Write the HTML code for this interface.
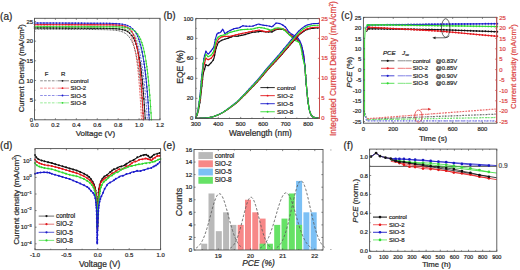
<!DOCTYPE html>
<html><head><meta charset="utf-8"><style>
html,body{margin:0;padding:0;background:#fff;}
svg{display:block;}
text{font-family:"Liberation Sans", sans-serif;}
</style></head><body>
<svg width="520" height="270" viewBox="0 0 520 270">
<rect width="520" height="270" fill="#fff"/>
<text x="0.1" y="19.6" font-size="10" text-anchor="start" fill="#2a2a2a" stroke="#2a2a2a" stroke-width="0.22">(a)</text>
<polyline points="34.5,29.17 35.55,29.17 36.59,29.18 37.64,29.19 38.68,29.19 39.73,29.2 40.77,29.2 41.82,29.21 42.87,29.21 43.91,29.22 44.96,29.23 46,29.23 47.05,29.24 48.1,29.24 49.14,29.25 50.19,29.26 51.23,29.26 52.28,29.27 53.33,29.27 54.37,29.28 55.42,29.29 56.46,29.29 57.51,29.3 58.55,29.3 59.6,29.31 60.65,29.31 61.69,29.32 62.74,29.33 63.78,29.33 64.83,29.34 65.88,29.34 66.92,29.35 67.97,29.36 69.01,29.36 70.06,29.37 71.1,29.37 72.15,29.38 73.2,29.39 74.24,29.39 75.29,29.4 76.33,29.4 77.38,29.41 78.43,29.42 79.47,29.42 80.52,29.43 81.56,29.43 82.61,29.44 83.65,29.45 84.7,29.45 85.75,29.46 86.79,29.47 87.84,29.47 88.88,29.48 89.93,29.49 90.98,29.49 92.02,29.5 93.07,29.51 94.11,29.52 95.16,29.53 96.2,29.54 97.25,29.55 98.3,29.56 99.34,29.57 100.39,29.58 101.43,29.6 102.48,29.62 103.53,29.63 104.57,29.66 105.62,29.68 106.66,29.71 107.71,29.74 108.75,29.78 109.8,29.83 110.85,29.88 111.89,29.95 112.94,30.02 113.98,30.11 115.03,30.22 116.08,30.34 117.12,30.5 118.17,30.68 119.21,30.89 120.26,31.15 121.3,31.47 122.35,31.84 123.4,32.29 123.81,32.49 124.23,32.71 124.65,32.95 125.07,33.2 125.49,33.47 125.91,33.77 126.32,34.08 126.74,34.43 127.16,34.79 127.58,35.19 128,35.61 128.42,36.07 128.83,36.56 129.25,37.09 129.67,37.66 130.09,38.28 130.51,38.94 130.93,39.65 131.34,40.42 131.76,41.24 132.18,42.13 132.6,43.09 133.02,44.12 133.44,45.22 133.85,46.42 134.27,47.7 134.69,49.09 135.11,50.58 135.53,52.18 135.95,53.91 136.36,55.77 136.78,57.78 137.2,59.93 137.62,62.26 138.04,64.76 138.46,67.45 138.87,70.35 139.29,73.48 139.71,76.84 140.13,80.46 140.55,84.36 140.97,88.56 141.38,93.09 141.8,97.96 142.22,103.2 142.64,108.85 143.06,114.93 143.37,119.8" fill="none" stroke="#444" stroke-width="0.9" stroke-dasharray="2,1" stroke-linejoin="round"/>
<polyline points="34.5,25.63 35.55,25.63 36.59,25.64 37.64,25.64 38.68,25.64 39.73,25.65 40.77,25.65 41.82,25.66 42.87,25.66 43.91,25.66 44.96,25.67 46,25.67 47.05,25.68 48.1,25.68 49.14,25.68 50.19,25.69 51.23,25.69 52.28,25.7 53.33,25.7 54.37,25.7 55.42,25.71 56.46,25.71 57.51,25.72 58.55,25.72 59.6,25.72 60.65,25.73 61.69,25.73 62.74,25.73 63.78,25.74 64.83,25.74 65.88,25.75 66.92,25.75 67.97,25.75 69.01,25.76 70.06,25.76 71.1,25.77 72.15,25.77 73.2,25.77 74.24,25.78 75.29,25.78 76.33,25.79 77.38,25.79 78.43,25.79 79.47,25.8 80.52,25.8 81.56,25.81 82.61,25.81 83.65,25.81 84.7,25.82 85.75,25.82 86.79,25.83 87.84,25.83 88.88,25.83 89.93,25.84 90.98,25.84 92.02,25.85 93.07,25.85 94.11,25.86 95.16,25.86 96.2,25.87 97.25,25.87 98.3,25.88 99.34,25.89 100.39,25.89 101.43,25.9 102.48,25.91 103.53,25.92 104.57,25.93 105.62,25.94 106.66,25.96 107.71,25.98 108.75,26 109.8,26.03 110.85,26.06 111.89,26.1 112.94,26.15 113.98,26.21 115.03,26.29 116.08,26.38 117.12,26.49 118.17,26.63 119.21,26.8 120.26,27.02 121.3,27.29 122.35,27.62 123.4,28.03 123.81,28.22 124.23,28.43 124.65,28.66 125.07,28.91 125.49,29.19 125.91,29.48 126.32,29.81 126.74,30.16 127.16,30.55 127.58,30.98 128,31.44 128.42,31.94 128.83,32.49 129.25,33.09 129.67,33.75 130.09,34.47 130.51,35.25 130.93,36.11 131.34,37.04 131.76,38.06 132.18,39.18 132.6,40.39 133.02,41.72 133.44,43.17 133.85,44.76 134.27,46.49 134.69,48.38 135.11,50.44 135.53,52.7 135.95,55.16 136.36,57.85 136.78,60.78 137.2,63.99 137.62,67.49 138.04,71.32 138.46,75.5 138.87,80.06 139.29,85.04 139.71,90.48 140.13,96.43 140.55,102.92 140.97,110.01 141.38,117.76 141.49,119.8" fill="none" stroke="#ea5a5a" stroke-width="0.9" stroke-dasharray="2,1" stroke-linejoin="round"/>
<polyline points="34.5,24.17 35.55,24.18 36.59,24.18 37.64,24.19 38.68,24.19 39.73,24.19 40.77,24.2 41.82,24.2 42.87,24.21 43.91,24.21 44.96,24.21 46,24.22 47.05,24.22 48.1,24.22 49.14,24.23 50.19,24.23 51.23,24.24 52.28,24.24 53.33,24.24 54.37,24.25 55.42,24.25 56.46,24.26 57.51,24.26 58.55,24.26 59.6,24.27 60.65,24.27 61.69,24.28 62.74,24.28 63.78,24.28 64.83,24.29 65.88,24.29 66.92,24.3 67.97,24.3 69.01,24.3 70.06,24.31 71.1,24.31 72.15,24.32 73.2,24.32 74.24,24.32 75.29,24.33 76.33,24.33 77.38,24.34 78.43,24.34 79.47,24.34 80.52,24.35 81.56,24.35 82.61,24.36 83.65,24.36 84.7,24.37 85.75,24.37 86.79,24.38 87.84,24.38 88.88,24.39 89.93,24.39 90.98,24.4 92.02,24.4 93.07,24.41 94.11,24.42 95.16,24.42 96.2,24.43 97.25,24.44 98.3,24.45 99.34,24.46 100.39,24.47 101.43,24.48 102.48,24.5 103.53,24.52 104.57,24.53 105.62,24.56 106.66,24.58 107.71,24.61 108.75,24.64 109.8,24.68 110.85,24.73 111.89,24.78 112.94,24.84 113.98,24.92 115.03,25 116.08,25.1 117.12,25.22 118.17,25.36 119.21,25.52 120.26,25.71 121.3,25.94 122.35,26.21 123.4,26.52 123.81,26.67 124.23,26.82 124.65,26.98 125.07,27.15 125.49,27.34 125.91,27.54 126.32,27.75 126.74,27.97 127.16,28.22 127.58,28.48 128,28.75 128.42,29.05 128.83,29.36 129.25,29.7 129.67,30.07 130.09,30.45 130.51,30.87 130.93,31.31 131.34,31.78 131.76,32.29 132.18,32.83 132.6,33.41 133.02,34.03 133.44,34.69 133.85,35.4 134.27,36.16 134.69,36.97 135.11,37.83 135.53,38.76 135.95,39.75 136.36,40.81 136.78,41.94 137.2,43.16 137.62,44.45 138.04,45.84 138.46,47.33 138.87,48.91 139.29,50.61 139.71,52.43 140.13,54.37 140.55,56.44 140.97,58.67 141.38,61.04 141.8,63.58 142.22,66.3 142.64,69.21 143.06,72.32 143.48,75.65 143.89,79.21 144.31,83.01 144.73,87.09 145.15,91.44 145.57,96.1 145.99,101.08 146.4,106.41 146.82,112.11 147.24,118.21 147.35,119.8" fill="none" stroke="#5a5ae0" stroke-width="0.9" stroke-dasharray="2,1" stroke-linejoin="round"/>
<polyline points="34.5,27.71 35.55,27.71 36.59,27.72 37.64,27.72 38.68,27.72 39.73,27.72 40.77,27.72 41.82,27.73 42.87,27.73 43.91,27.73 44.96,27.73 46,27.73 47.05,27.74 48.1,27.74 49.14,27.74 50.19,27.74 51.23,27.74 52.28,27.75 53.33,27.75 54.37,27.75 55.42,27.75 56.46,27.75 57.51,27.76 58.55,27.76 59.6,27.76 60.65,27.76 61.69,27.76 62.74,27.77 63.78,27.77 64.83,27.77 65.88,27.77 66.92,27.77 67.97,27.78 69.01,27.78 70.06,27.78 71.1,27.78 72.15,27.78 73.2,27.79 74.24,27.79 75.29,27.79 76.33,27.79 77.38,27.79 78.43,27.8 79.47,27.8 80.52,27.8 81.56,27.8 82.61,27.8 83.65,27.81 84.7,27.81 85.75,27.81 86.79,27.81 87.84,27.82 88.88,27.82 89.93,27.82 90.98,27.82 92.02,27.83 93.07,27.83 94.11,27.83 95.16,27.84 96.2,27.84 97.25,27.84 98.3,27.85 99.34,27.85 100.39,27.86 101.43,27.86 102.48,27.87 103.53,27.88 104.57,27.89 105.62,27.9 106.66,27.91 107.71,27.92 108.75,27.94 109.8,27.96 110.85,27.98 111.89,28.01 112.94,28.04 113.98,28.08 115.03,28.12 116.08,28.17 117.12,28.24 118.17,28.31 119.21,28.4 120.26,28.5 121.3,28.63 122.35,28.77 123.4,28.95 123.81,29.03 124.23,29.12 124.65,29.21 125.07,29.31 125.49,29.41 125.91,29.53 126.32,29.65 126.74,29.78 127.16,29.92 127.58,30.07 128,30.23 128.42,30.41 128.83,30.59 129.25,30.79 129.67,31.01 130.09,31.24 130.51,31.49 130.93,31.75 131.34,32.04 131.76,32.35 132.18,32.68 132.6,33.03 133.02,33.41 133.44,33.82 133.85,34.26 134.27,34.73 134.69,35.23 135.11,35.77 135.53,36.35 135.95,36.98 136.36,37.65 136.78,38.37 137.2,39.14 137.62,39.97 138.04,40.86 138.46,41.82 138.87,42.85 139.29,43.95 139.71,45.14 140.13,46.41 140.55,47.78 140.97,49.25 141.38,50.82 141.8,52.51 142.22,54.33 142.64,56.28 143.06,58.38 143.48,60.63 143.89,63.04 144.31,65.63 144.73,68.42 145.15,71.41 145.57,74.62 145.99,78.07 146.4,81.77 146.82,85.75 147.24,90.02 147.66,94.6 148.08,99.53 148.5,104.81 148.91,110.49 149.33,116.59 149.54,119.8" fill="none" stroke="#5ae05a" stroke-width="0.9" stroke-dasharray="2,1" stroke-linejoin="round"/>
<polyline points="34.5,27.99 35.55,27.99 36.59,28 37.64,28.01 38.68,28.01 39.73,28.02 40.77,28.02 41.82,28.03 42.87,28.03 43.91,28.04 44.96,28.05 46,28.05 47.05,28.06 48.1,28.06 49.14,28.07 50.19,28.08 51.23,28.08 52.28,28.09 53.33,28.09 54.37,28.1 55.42,28.11 56.46,28.11 57.51,28.12 58.55,28.12 59.6,28.13 60.65,28.14 61.69,28.14 62.74,28.15 63.78,28.15 64.83,28.16 65.88,28.16 66.92,28.17 67.97,28.18 69.01,28.18 70.06,28.19 71.1,28.19 72.15,28.2 73.2,28.21 74.24,28.21 75.29,28.22 76.33,28.22 77.38,28.23 78.43,28.24 79.47,28.24 80.52,28.25 81.56,28.25 82.61,28.26 83.65,28.27 84.7,28.27 85.75,28.28 86.79,28.28 87.84,28.29 88.88,28.3 89.93,28.3 90.98,28.31 92.02,28.32 93.07,28.32 94.11,28.33 95.16,28.34 96.2,28.34 97.25,28.35 98.3,28.36 99.34,28.37 100.39,28.38 101.43,28.39 102.48,28.4 103.53,28.41 104.57,28.42 105.62,28.44 106.66,28.45 107.71,28.47 108.75,28.49 109.8,28.52 110.85,28.54 111.89,28.58 112.94,28.62 113.98,28.67 115.03,28.72 116.08,28.79 117.12,28.87 118.17,28.97 119.21,29.09 120.26,29.24 121.3,29.41 122.35,29.63 123.4,29.88 123.81,30 124.23,30.13 124.65,30.27 125.07,30.42 125.49,30.58 125.91,30.76 126.32,30.95 126.74,31.15 127.16,31.38 127.58,31.62 128,31.88 128.42,32.16 128.83,32.47 129.25,32.8 129.67,33.16 130.09,33.54 130.51,33.96 130.93,34.42 131.34,34.91 131.76,35.45 132.18,36.02 132.6,36.65 133.02,37.33 133.44,38.06 133.85,38.86 134.27,39.72 134.69,40.65 135.11,41.66 135.53,42.75 135.95,43.94 136.36,45.22 136.78,46.61 137.2,48.12 137.62,49.75 138.04,51.51 138.46,53.43 138.87,55.5 139.29,57.74 139.71,60.17 140.13,62.81 140.55,65.66 140.97,68.75 141.38,72.1 141.8,75.72 142.22,79.65 142.64,83.91 143.06,88.51 143.48,93.51 143.89,98.92 144.31,104.77 144.73,111.12 145.15,117.99 145.25,119.8" fill="none" stroke="#111" stroke-width="0.9" stroke-linejoin="round"/>
<g fill="#111"><circle cx="34.5" cy="27.99" r="0.8"/><circle cx="37.64" cy="28.01" r="0.8"/><circle cx="40.77" cy="28.02" r="0.8"/><circle cx="43.91" cy="28.04" r="0.8"/><circle cx="47.05" cy="28.06" r="0.8"/><circle cx="50.19" cy="28.08" r="0.8"/><circle cx="53.33" cy="28.09" r="0.8"/><circle cx="56.46" cy="28.11" r="0.8"/><circle cx="59.6" cy="28.13" r="0.8"/><circle cx="62.74" cy="28.15" r="0.8"/><circle cx="65.88" cy="28.16" r="0.8"/><circle cx="69.01" cy="28.18" r="0.8"/><circle cx="72.15" cy="28.2" r="0.8"/><circle cx="75.29" cy="28.22" r="0.8"/><circle cx="78.43" cy="28.24" r="0.8"/><circle cx="81.56" cy="28.25" r="0.8"/><circle cx="84.7" cy="28.27" r="0.8"/><circle cx="87.84" cy="28.29" r="0.8"/><circle cx="90.98" cy="28.31" r="0.8"/><circle cx="94.11" cy="28.33" r="0.8"/><circle cx="97.25" cy="28.35" r="0.8"/><circle cx="100.39" cy="28.38" r="0.8"/><circle cx="103.53" cy="28.41" r="0.8"/><circle cx="106.66" cy="28.45" r="0.8"/><circle cx="109.8" cy="28.52" r="0.8"/><circle cx="112.94" cy="28.62" r="0.8"/><circle cx="116.08" cy="28.79" r="0.8"/><circle cx="119.21" cy="29.09" r="0.8"/><circle cx="122.35" cy="29.63" r="0.8"/><circle cx="125.07" cy="30.42" r="0.8"/><circle cx="127.58" cy="31.62" r="0.8"/><circle cx="129.67" cy="33.16" r="0.8"/><circle cx="131.76" cy="35.45" r="0.8"/><circle cx="133.44" cy="38.06" r="0.8"/><circle cx="134.69" cy="40.65" r="0.8"/><circle cx="135.95" cy="43.94" r="0.8"/><circle cx="136.78" cy="46.61" r="0.8"/><circle cx="137.62" cy="49.75" r="0.8"/><circle cx="138.46" cy="53.43" r="0.8"/><circle cx="139.29" cy="57.74" r="0.8"/><circle cx="140.13" cy="62.81" r="0.8"/><circle cx="140.55" cy="65.66" r="0.8"/><circle cx="140.97" cy="68.75" r="0.8"/><circle cx="141.38" cy="72.1" r="0.8"/><circle cx="141.8" cy="75.72" r="0.8"/><circle cx="142.22" cy="79.65" r="0.8"/><circle cx="142.64" cy="83.91" r="0.8"/><circle cx="143.06" cy="88.51" r="0.8"/><circle cx="143.48" cy="93.51" r="0.8"/><circle cx="143.89" cy="98.92" r="0.8"/><circle cx="144.31" cy="104.77" r="0.8"/><circle cx="144.73" cy="111.12" r="0.8"/><circle cx="145.15" cy="117.99" r="0.8"/></g>
<polyline points="34.5,24.45 35.55,24.45 36.59,24.46 37.64,24.46 38.68,24.46 39.73,24.47 40.77,24.47 41.82,24.48 42.87,24.48 43.91,24.48 44.96,24.49 46,24.49 47.05,24.5 48.1,24.5 49.14,24.5 50.19,24.51 51.23,24.51 52.28,24.52 53.33,24.52 54.37,24.52 55.42,24.53 56.46,24.53 57.51,24.54 58.55,24.54 59.6,24.54 60.65,24.55 61.69,24.55 62.74,24.56 63.78,24.56 64.83,24.56 65.88,24.57 66.92,24.57 67.97,24.57 69.01,24.58 70.06,24.58 71.1,24.59 72.15,24.59 73.2,24.59 74.24,24.6 75.29,24.6 76.33,24.61 77.38,24.61 78.43,24.61 79.47,24.62 80.52,24.62 81.56,24.63 82.61,24.63 83.65,24.63 84.7,24.64 85.75,24.64 86.79,24.65 87.84,24.65 88.88,24.65 89.93,24.66 90.98,24.66 92.02,24.67 93.07,24.67 94.11,24.67 95.16,24.68 96.2,24.68 97.25,24.69 98.3,24.69 99.34,24.7 100.39,24.7 101.43,24.71 102.48,24.71 103.53,24.72 104.57,24.73 105.62,24.73 106.66,24.74 107.71,24.75 108.75,24.76 109.8,24.78 110.85,24.79 111.89,24.81 112.94,24.84 113.98,24.87 115.03,24.9 116.08,24.95 117.12,25 118.17,25.07 119.21,25.16 120.26,25.26 121.3,25.4 122.35,25.57 123.4,25.79 123.81,25.89 124.23,26 124.65,26.13 125.07,26.26 125.49,26.41 125.91,26.57 126.32,26.75 126.74,26.95 127.16,27.17 127.58,27.41 128,27.67 128.42,27.96 128.83,28.27 129.25,28.62 129.67,29 130.09,29.42 130.51,29.89 130.93,30.4 131.34,30.96 131.76,31.57 132.18,32.25 132.6,32.99 133.02,33.81 133.44,34.71 133.85,35.7 134.27,36.79 134.69,37.98 135.11,39.3 135.53,40.75 135.95,42.34 136.36,44.09 136.78,46.02 137.2,48.14 137.62,50.47 138.04,53.03 138.46,55.85 138.87,58.95 139.29,62.36 139.71,66.11 140.13,70.23 140.55,74.77 140.97,79.76 141.38,85.24 141.8,91.28 142.22,97.92 142.64,105.22 143.06,113.25 143.37,119.8" fill="none" stroke="#e3171d" stroke-width="0.9" stroke-linejoin="round"/>
<g fill="#e3171d"><circle cx="34.5" cy="24.45" r="0.8"/><circle cx="37.64" cy="24.46" r="0.8"/><circle cx="40.77" cy="24.47" r="0.8"/><circle cx="43.91" cy="24.48" r="0.8"/><circle cx="47.05" cy="24.5" r="0.8"/><circle cx="50.19" cy="24.51" r="0.8"/><circle cx="53.33" cy="24.52" r="0.8"/><circle cx="56.46" cy="24.53" r="0.8"/><circle cx="59.6" cy="24.54" r="0.8"/><circle cx="62.74" cy="24.56" r="0.8"/><circle cx="65.88" cy="24.57" r="0.8"/><circle cx="69.01" cy="24.58" r="0.8"/><circle cx="72.15" cy="24.59" r="0.8"/><circle cx="75.29" cy="24.6" r="0.8"/><circle cx="78.43" cy="24.61" r="0.8"/><circle cx="81.56" cy="24.63" r="0.8"/><circle cx="84.7" cy="24.64" r="0.8"/><circle cx="87.84" cy="24.65" r="0.8"/><circle cx="90.98" cy="24.66" r="0.8"/><circle cx="94.11" cy="24.67" r="0.8"/><circle cx="97.25" cy="24.69" r="0.8"/><circle cx="100.39" cy="24.7" r="0.8"/><circle cx="103.53" cy="24.72" r="0.8"/><circle cx="106.66" cy="24.74" r="0.8"/><circle cx="109.8" cy="24.78" r="0.8"/><circle cx="112.94" cy="24.84" r="0.8"/><circle cx="116.08" cy="24.95" r="0.8"/><circle cx="119.21" cy="25.16" r="0.8"/><circle cx="122.35" cy="25.57" r="0.8"/><circle cx="125.07" cy="26.26" r="0.8"/><circle cx="127.58" cy="27.41" r="0.8"/><circle cx="129.67" cy="29" r="0.8"/><circle cx="131.76" cy="31.57" r="0.8"/><circle cx="133.44" cy="34.71" r="0.8"/><circle cx="134.69" cy="37.98" r="0.8"/><circle cx="135.53" cy="40.75" r="0.8"/><circle cx="136.36" cy="44.09" r="0.8"/><circle cx="137.2" cy="48.14" r="0.8"/><circle cx="138.04" cy="53.03" r="0.8"/><circle cx="138.46" cy="55.85" r="0.8"/><circle cx="138.87" cy="58.95" r="0.8"/><circle cx="139.29" cy="62.36" r="0.8"/><circle cx="139.71" cy="66.11" r="0.8"/><circle cx="140.13" cy="70.23" r="0.8"/><circle cx="140.55" cy="74.77" r="0.8"/><circle cx="140.97" cy="79.76" r="0.8"/><circle cx="141.38" cy="85.24" r="0.8"/><circle cx="141.8" cy="91.28" r="0.8"/><circle cx="142.22" cy="97.92" r="0.8"/><circle cx="142.64" cy="105.22" r="0.8"/><circle cx="143.06" cy="113.25" r="0.8"/><circle cx="143.37" cy="119.8" r="0.8"/></g>
<polyline points="34.5,22.99 35.55,23 36.59,23 37.64,23.01 38.68,23.01 39.73,23.01 40.77,23.02 41.82,23.02 42.87,23.03 43.91,23.03 44.96,23.03 46,23.04 47.05,23.04 48.1,23.05 49.14,23.05 50.19,23.05 51.23,23.06 52.28,23.06 53.33,23.06 54.37,23.07 55.42,23.07 56.46,23.08 57.51,23.08 58.55,23.08 59.6,23.09 60.65,23.09 61.69,23.1 62.74,23.1 63.78,23.1 64.83,23.11 65.88,23.11 66.92,23.12 67.97,23.12 69.01,23.12 70.06,23.13 71.1,23.13 72.15,23.14 73.2,23.14 74.24,23.14 75.29,23.15 76.33,23.15 77.38,23.16 78.43,23.16 79.47,23.16 80.52,23.17 81.56,23.17 82.61,23.18 83.65,23.18 84.7,23.18 85.75,23.19 86.79,23.19 87.84,23.2 88.88,23.2 89.93,23.21 90.98,23.21 92.02,23.22 93.07,23.22 94.11,23.22 95.16,23.23 96.2,23.24 97.25,23.24 98.3,23.25 99.34,23.25 100.39,23.26 101.43,23.27 102.48,23.28 103.53,23.29 104.57,23.3 105.62,23.31 106.66,23.32 107.71,23.34 108.75,23.36 109.8,23.38 110.85,23.4 111.89,23.43 112.94,23.46 113.98,23.5 115.03,23.55 116.08,23.6 117.12,23.67 118.17,23.74 119.21,23.83 120.26,23.94 121.3,24.07 122.35,24.23 123.4,24.41 123.81,24.49 124.23,24.58 124.65,24.68 125.07,24.78 125.49,24.89 125.91,25.01 126.32,25.14 126.74,25.27 127.16,25.42 127.58,25.58 128,25.75 128.42,25.93 128.83,26.13 129.25,26.34 129.67,26.57 130.09,26.81 130.51,27.08 130.93,27.36 131.34,27.66 131.76,27.99 132.18,28.34 132.6,28.71 133.02,29.12 133.44,29.56 133.85,30.02 134.27,30.53 134.69,31.07 135.11,31.65 135.53,32.28 135.95,32.95 136.36,33.67 136.78,34.45 137.2,35.29 137.62,36.19 138.04,37.16 138.46,38.2 138.87,39.32 139.29,40.52 139.71,41.81 140.13,43.21 140.55,44.7 140.97,46.31 141.38,48.04 141.8,49.9 142.22,51.9 142.64,54.06 143.06,56.37 143.48,58.86 143.89,61.53 144.31,64.41 144.73,67.51 145.15,70.84 145.57,74.41 145.99,78.26 146.4,82.4 146.82,86.85 147.24,91.64 147.66,96.79 148.08,102.33 148.5,108.28 148.91,114.68 149.23,119.8" fill="none" stroke="#1c1ccc" stroke-width="0.9" stroke-linejoin="round"/>
<g fill="#1c1ccc"><circle cx="34.5" cy="22.99" r="0.8"/><circle cx="37.64" cy="23.01" r="0.8"/><circle cx="40.77" cy="23.02" r="0.8"/><circle cx="43.91" cy="23.03" r="0.8"/><circle cx="47.05" cy="23.04" r="0.8"/><circle cx="50.19" cy="23.05" r="0.8"/><circle cx="53.33" cy="23.06" r="0.8"/><circle cx="56.46" cy="23.08" r="0.8"/><circle cx="59.6" cy="23.09" r="0.8"/><circle cx="62.74" cy="23.1" r="0.8"/><circle cx="65.88" cy="23.11" r="0.8"/><circle cx="69.01" cy="23.12" r="0.8"/><circle cx="72.15" cy="23.14" r="0.8"/><circle cx="75.29" cy="23.15" r="0.8"/><circle cx="78.43" cy="23.16" r="0.8"/><circle cx="81.56" cy="23.17" r="0.8"/><circle cx="84.7" cy="23.18" r="0.8"/><circle cx="87.84" cy="23.2" r="0.8"/><circle cx="90.98" cy="23.21" r="0.8"/><circle cx="94.11" cy="23.22" r="0.8"/><circle cx="97.25" cy="23.24" r="0.8"/><circle cx="100.39" cy="23.26" r="0.8"/><circle cx="103.53" cy="23.29" r="0.8"/><circle cx="106.66" cy="23.32" r="0.8"/><circle cx="109.8" cy="23.38" r="0.8"/><circle cx="112.94" cy="23.46" r="0.8"/><circle cx="116.08" cy="23.6" r="0.8"/><circle cx="119.21" cy="23.83" r="0.8"/><circle cx="122.35" cy="24.23" r="0.8"/><circle cx="125.07" cy="24.78" r="0.8"/><circle cx="127.58" cy="25.58" r="0.8"/><circle cx="130.09" cy="26.81" r="0.8"/><circle cx="132.6" cy="28.71" r="0.8"/><circle cx="134.69" cy="31.07" r="0.8"/><circle cx="136.36" cy="33.67" r="0.8"/><circle cx="137.62" cy="36.19" r="0.8"/><circle cx="138.87" cy="39.32" r="0.8"/><circle cx="139.71" cy="41.81" r="0.8"/><circle cx="140.55" cy="44.7" r="0.8"/><circle cx="141.38" cy="48.04" r="0.8"/><circle cx="142.22" cy="51.9" r="0.8"/><circle cx="143.06" cy="56.37" r="0.8"/><circle cx="143.89" cy="61.53" r="0.8"/><circle cx="144.31" cy="64.41" r="0.8"/><circle cx="144.73" cy="67.51" r="0.8"/><circle cx="145.15" cy="70.84" r="0.8"/><circle cx="145.57" cy="74.41" r="0.8"/><circle cx="145.99" cy="78.26" r="0.8"/><circle cx="146.4" cy="82.4" r="0.8"/><circle cx="146.82" cy="86.85" r="0.8"/><circle cx="147.24" cy="91.64" r="0.8"/><circle cx="147.66" cy="96.79" r="0.8"/><circle cx="148.08" cy="102.33" r="0.8"/><circle cx="148.5" cy="108.28" r="0.8"/><circle cx="148.91" cy="114.68" r="0.8"/><circle cx="149.23" cy="119.8" r="0.8"/></g>
<polyline points="34.5,26.53 35.55,26.53 36.59,26.54 37.64,26.54 38.68,26.54 39.73,26.54 40.77,26.54 41.82,26.55 42.87,26.55 43.91,26.55 44.96,26.55 46,26.55 47.05,26.56 48.1,26.56 49.14,26.56 50.19,26.56 51.23,26.56 52.28,26.57 53.33,26.57 54.37,26.57 55.42,26.57 56.46,26.57 57.51,26.58 58.55,26.58 59.6,26.58 60.65,26.58 61.69,26.58 62.74,26.59 63.78,26.59 64.83,26.59 65.88,26.59 66.92,26.59 67.97,26.6 69.01,26.6 70.06,26.6 71.1,26.6 72.15,26.6 73.2,26.61 74.24,26.61 75.29,26.61 76.33,26.61 77.38,26.61 78.43,26.62 79.47,26.62 80.52,26.62 81.56,26.62 82.61,26.62 83.65,26.63 84.7,26.63 85.75,26.63 86.79,26.63 87.84,26.63 88.88,26.64 89.93,26.64 90.98,26.64 92.02,26.64 93.07,26.65 94.11,26.65 95.16,26.65 96.2,26.65 97.25,26.66 98.3,26.66 99.34,26.66 100.39,26.66 101.43,26.67 102.48,26.67 103.53,26.68 104.57,26.68 105.62,26.69 106.66,26.69 107.71,26.7 108.75,26.71 109.8,26.72 110.85,26.73 111.89,26.74 112.94,26.76 113.98,26.78 115.03,26.8 116.08,26.83 117.12,26.86 118.17,26.9 119.21,26.94 120.26,27 121.3,27.06 122.35,27.14 123.4,27.24 123.81,27.28 124.23,27.33 124.65,27.38 125.07,27.43 125.49,27.49 125.91,27.56 126.32,27.63 126.74,27.7 127.16,27.78 127.58,27.87 128,27.96 128.42,28.06 128.83,28.17 129.25,28.29 129.67,28.42 130.09,28.55 130.51,28.7 130.93,28.86 131.34,29.03 131.76,29.22 132.18,29.42 132.6,29.64 133.02,29.87 133.44,30.12 133.85,30.4 134.27,30.69 134.69,31.01 135.11,31.35 135.53,31.73 135.95,32.13 136.36,32.56 136.78,33.03 137.2,33.53 137.62,34.08 138.04,34.66 138.46,35.3 138.87,35.99 139.29,36.73 139.71,37.53 140.13,38.39 140.55,39.32 140.97,40.33 141.38,41.42 141.8,42.6 142.22,43.86 142.64,45.24 143.06,46.72 143.48,48.31 143.89,50.04 144.31,51.9 144.73,53.92 145.15,56.09 145.57,58.44 145.99,60.97 146.4,63.71 146.82,66.67 147.24,69.86 147.66,73.31 148.08,77.03 148.5,81.05 148.91,85.4 149.33,90.09 149.75,95.15 150.17,100.62 150.59,106.53 151.01,112.91 151.42,119.8" fill="none" stroke="#2fd82f" stroke-width="0.9" stroke-linejoin="round"/>
<g fill="#2fd82f"><circle cx="34.5" cy="26.53" r="0.8"/><circle cx="37.64" cy="26.54" r="0.8"/><circle cx="40.77" cy="26.54" r="0.8"/><circle cx="43.91" cy="26.55" r="0.8"/><circle cx="47.05" cy="26.56" r="0.8"/><circle cx="50.19" cy="26.56" r="0.8"/><circle cx="53.33" cy="26.57" r="0.8"/><circle cx="56.46" cy="26.57" r="0.8"/><circle cx="59.6" cy="26.58" r="0.8"/><circle cx="62.74" cy="26.59" r="0.8"/><circle cx="65.88" cy="26.59" r="0.8"/><circle cx="69.01" cy="26.6" r="0.8"/><circle cx="72.15" cy="26.6" r="0.8"/><circle cx="75.29" cy="26.61" r="0.8"/><circle cx="78.43" cy="26.62" r="0.8"/><circle cx="81.56" cy="26.62" r="0.8"/><circle cx="84.7" cy="26.63" r="0.8"/><circle cx="87.84" cy="26.63" r="0.8"/><circle cx="90.98" cy="26.64" r="0.8"/><circle cx="94.11" cy="26.65" r="0.8"/><circle cx="97.25" cy="26.66" r="0.8"/><circle cx="100.39" cy="26.66" r="0.8"/><circle cx="103.53" cy="26.68" r="0.8"/><circle cx="106.66" cy="26.69" r="0.8"/><circle cx="109.8" cy="26.72" r="0.8"/><circle cx="112.94" cy="26.76" r="0.8"/><circle cx="116.08" cy="26.83" r="0.8"/><circle cx="119.21" cy="26.94" r="0.8"/><circle cx="122.35" cy="27.14" r="0.8"/><circle cx="125.07" cy="27.43" r="0.8"/><circle cx="128" cy="27.96" r="0.8"/><circle cx="130.51" cy="28.7" r="0.8"/><circle cx="133.02" cy="29.87" r="0.8"/><circle cx="135.53" cy="31.73" r="0.8"/><circle cx="137.62" cy="34.08" r="0.8"/><circle cx="139.29" cy="36.73" r="0.8"/><circle cx="140.55" cy="39.32" r="0.8"/><circle cx="141.8" cy="42.6" r="0.8"/><circle cx="142.64" cy="45.24" r="0.8"/><circle cx="143.48" cy="48.31" r="0.8"/><circle cx="144.31" cy="51.9" r="0.8"/><circle cx="145.15" cy="56.09" r="0.8"/><circle cx="145.99" cy="60.97" r="0.8"/><circle cx="146.4" cy="63.71" r="0.8"/><circle cx="146.82" cy="66.67" r="0.8"/><circle cx="147.24" cy="69.86" r="0.8"/><circle cx="147.66" cy="73.31" r="0.8"/><circle cx="148.08" cy="77.03" r="0.8"/><circle cx="148.5" cy="81.05" r="0.8"/><circle cx="148.91" cy="85.4" r="0.8"/><circle cx="149.33" cy="90.09" r="0.8"/><circle cx="149.75" cy="95.15" r="0.8"/><circle cx="150.17" cy="100.62" r="0.8"/><circle cx="150.59" cy="106.53" r="0.8"/><circle cx="151.01" cy="112.91" r="0.8"/><circle cx="151.42" cy="119.8" r="0.8"/></g>
<rect x="34.5" y="18.3" width="125.5" height="101.5" fill="none" stroke="#505050" stroke-width="0.9"/>
<path d="M34.5 119.8v-1.6M34.5 18.3v1.6M55.42 119.8v-1.6M55.42 18.3v1.6M76.33 119.8v-1.6M76.33 18.3v1.6M97.25 119.8v-1.6M97.25 18.3v1.6M118.17 119.8v-1.6M118.17 18.3v1.6M139.08 119.8v-1.6M139.08 18.3v1.6M160 119.8v-1.6M160 18.3v1.6M44.96 119.8v-0.96M44.96 18.3v0.96M65.88 119.8v-0.96M65.88 18.3v0.96M86.79 119.8v-0.96M86.79 18.3v0.96M107.71 119.8v-0.96M107.71 18.3v0.96M128.62 119.8v-0.96M128.62 18.3v0.96M149.54 119.8v-0.96M149.54 18.3v0.96" stroke="#505050" stroke-width="0.7" fill="none"/>
<path d="M34.5 119.8h1.6M34.5 100.14h1.6M34.5 80.48h1.6M34.5 60.82h1.6M34.5 41.16h1.6M34.5 21.5h1.6M34.5 109.97h0.96M34.5 90.31h0.96M34.5 70.65h0.96M34.5 50.99h0.96M34.5 31.33h0.96" stroke="#505050" stroke-width="0.7" fill="none"/>
<text x="34.5" y="127.4" font-size="5.9" text-anchor="middle" fill="#2a2a2a" stroke="#2a2a2a" stroke-width="0.22">0.0</text>
<text x="55.42" y="127.4" font-size="5.9" text-anchor="middle" fill="#2a2a2a" stroke="#2a2a2a" stroke-width="0.22">0.2</text>
<text x="76.33" y="127.4" font-size="5.9" text-anchor="middle" fill="#2a2a2a" stroke="#2a2a2a" stroke-width="0.22">0.4</text>
<text x="97.25" y="127.4" font-size="5.9" text-anchor="middle" fill="#2a2a2a" stroke="#2a2a2a" stroke-width="0.22">0.6</text>
<text x="118.17" y="127.4" font-size="5.9" text-anchor="middle" fill="#2a2a2a" stroke="#2a2a2a" stroke-width="0.22">0.8</text>
<text x="139.08" y="127.4" font-size="5.9" text-anchor="middle" fill="#2a2a2a" stroke="#2a2a2a" stroke-width="0.22">1.0</text>
<text x="160" y="127.4" font-size="5.9" text-anchor="middle" fill="#2a2a2a" stroke="#2a2a2a" stroke-width="0.22">1.2</text>
<text x="33.1" y="121.9" font-size="5.9" text-anchor="end" fill="#2a2a2a" stroke="#2a2a2a" stroke-width="0.22">0</text>
<text x="33.1" y="102.24" font-size="5.9" text-anchor="end" fill="#2a2a2a" stroke="#2a2a2a" stroke-width="0.22">5</text>
<text x="33.1" y="82.58" font-size="5.9" text-anchor="end" fill="#2a2a2a" stroke="#2a2a2a" stroke-width="0.22">10</text>
<text x="33.1" y="62.92" font-size="5.9" text-anchor="end" fill="#2a2a2a" stroke="#2a2a2a" stroke-width="0.22">15</text>
<text x="33.1" y="43.26" font-size="5.9" text-anchor="end" fill="#2a2a2a" stroke="#2a2a2a" stroke-width="0.22">20</text>
<text x="33.1" y="23.6" font-size="5.9" text-anchor="end" fill="#2a2a2a" stroke="#2a2a2a" stroke-width="0.22">25</text>
<text x="95.5" y="136.3" font-size="8" text-anchor="middle" fill="#2a2a2a" stroke="#2a2a2a" stroke-width="0.22">Voltage (V)</text>
<text transform="translate(24.4 68.2) rotate(-90)" font-size="7.8" text-anchor="middle" fill="#2a2a2a" stroke="#2a2a2a" stroke-width="0.22">Current Density (mA/cm<tspan font-size="4.6" dy="-2.9">2</tspan><tspan dy="2.9">)</tspan></text>
<text x="46.6" y="75.8" font-size="6" text-anchor="middle" fill="#2a2a2a" stroke="#2a2a2a" stroke-width="0.22">F</text>
<text x="63.1" y="75.8" font-size="6" text-anchor="middle" fill="#2a2a2a" stroke="#2a2a2a" stroke-width="0.22">R</text>
<polyline points="40.2,80.8 56.5,80.8" fill="none" stroke="#111" stroke-width="0.9" stroke-dasharray="2.6,1.3" opacity="0.55" stroke-linejoin="round"/>
<polyline points="57.5,80.8 69,80.8" fill="none" stroke="#111" stroke-width="0.9" opacity="0.6" stroke-linejoin="round"/>
<g fill="#111"><circle cx="62.5" cy="80.8" r="0.9"/></g>
<text x="70.5" y="82.9" font-size="6" text-anchor="start" fill="#2a2a2a" stroke="#2a2a2a" stroke-width="0.22">control</text>
<polyline points="40.2,88.15 56.5,88.15" fill="none" stroke="#e3171d" stroke-width="0.9" stroke-dasharray="2.6,1.3" opacity="0.55" stroke-linejoin="round"/>
<polyline points="57.5,88.15 69,88.15" fill="none" stroke="#e3171d" stroke-width="0.9" opacity="0.6" stroke-linejoin="round"/>
<g fill="#e3171d"><circle cx="62.5" cy="88.15" r="0.9"/></g>
<text x="70.5" y="90.25" font-size="6" text-anchor="start" fill="#2a2a2a" stroke="#2a2a2a" stroke-width="0.22">SIO-2</text>
<polyline points="40.2,95.5 56.5,95.5" fill="none" stroke="#1c1ccc" stroke-width="0.9" stroke-dasharray="2.6,1.3" opacity="0.55" stroke-linejoin="round"/>
<polyline points="57.5,95.5 69,95.5" fill="none" stroke="#1c1ccc" stroke-width="0.9" opacity="0.6" stroke-linejoin="round"/>
<g fill="#1c1ccc"><circle cx="62.5" cy="95.5" r="0.9"/></g>
<text x="70.5" y="97.6" font-size="6" text-anchor="start" fill="#2a2a2a" stroke="#2a2a2a" stroke-width="0.22">SIO-5</text>
<polyline points="40.2,102.85 56.5,102.85" fill="none" stroke="#2fd82f" stroke-width="0.9" stroke-dasharray="2.6,1.3" opacity="0.55" stroke-linejoin="round"/>
<polyline points="57.5,102.85 69,102.85" fill="none" stroke="#2fd82f" stroke-width="0.9" opacity="0.6" stroke-linejoin="round"/>
<g fill="#2fd82f"><circle cx="62.5" cy="102.85" r="0.9"/></g>
<text x="70.5" y="104.95" font-size="6" text-anchor="start" fill="#2a2a2a" stroke="#2a2a2a" stroke-width="0.22">SIO-8</text>
<text x="163.4" y="19.1" font-size="10" text-anchor="start" fill="#2a2a2a" stroke="#2a2a2a" stroke-width="0.22">(b)</text>
<polyline points="195.8,118.3 196.47,116.5 197.15,114.7 197.82,112.91 198.49,109.91 199.17,106.31 199.84,102.72 200.51,98.27 201.19,92.11 201.86,85.96 202.54,79.8 203.21,73.64 203.88,71.42 204.56,69.2 205.23,66.98 205.9,64.75 206.58,65.08 207.25,65.41 207.92,65.74 208.6,65.39 209.27,64.69 209.94,63.99 210.62,63.29 211.29,62.59 211.96,61.76 212.64,60.86 213.31,59.96 213.98,58.26 214.66,54.96 215.33,51.67 216.01,48.37 216.68,46.6 217.35,44.83 218.03,43.07 218.7,42.18 219.37,41.74 220.05,41.3 220.72,40.86 221.39,40.42 222.07,40.13 222.74,39.91 223.41,39.69 224.09,39.47 224.76,39.25 225.43,39.03 226.11,38.81 226.78,38.59 227.45,38.37 228.13,38.15 228.8,37.9 229.48,37.64 230.15,37.38 230.82,37.11 231.5,36.85 232.17,36.59 232.84,36.32 233.52,36.06 234.19,35.92 234.86,36.05 235.54,36.17 236.21,36.3 236.88,36.33 237.56,36.19 238.23,36.05 238.9,35.91 239.58,35.77 240.25,35.63 240.92,35.49 241.6,35.35 242.27,35.21 242.95,35.07 243.62,34.92 244.29,34.78 244.97,34.58 245.64,34.37 246.31,34.17 246.99,33.96 247.66,33.76 248.33,33.55 249.01,33.35 249.68,33.14 250.35,32.93 251.03,32.73 251.7,32.52 252.37,32.36 253.05,32.29 253.72,32.21 254.39,32.14 255.07,32.06 255.74,31.99 256.42,31.91 257.09,31.84 257.76,31.76 258.44,31.69 259.11,31.61 259.78,31.54 260.46,31.46 261.13,31.39 261.8,31.45 262.48,31.51 263.15,31.57 263.82,31.63 264.5,31.69 265.17,31.75 265.84,31.81 266.52,31.87 267.19,31.89 267.86,31.89 268.54,31.89 269.21,31.89 269.88,31.89 270.56,31.89 271.23,31.89 271.91,31.89 272.58,31.61 273.25,31.2 273.93,30.79 274.6,30.38 275.27,29.96 275.95,29.66 276.62,29.56 277.29,29.47 277.97,29.37 278.64,29.28 279.31,29.18 279.99,29.09 280.66,29.15 281.33,29.21 282.01,29.27 282.68,29.33 283.36,29.39 284.03,29.8 284.7,30.21 285.38,30.62 286.05,31.14 286.72,31.89 287.4,32.64 288.07,33.38 288.74,34.13 289.42,34.67 290.09,35.1 290.76,35.53 291.44,35.95 292.11,36.38 292.78,36.7 293.46,37.02 294.13,37.35 294.8,37.67 295.48,38.07 296.15,38.65 296.83,39.23 297.5,39.8 298.17,40.38 298.85,41.47 299.52,42.56 300.19,43.65 300.87,45.09 301.54,47.23 302.21,49.37 302.89,52.79 303.56,56.22 304.23,60.96 304.91,66.35 305.58,75.34 306.25,83.88 306.93,91.53 307.6,98.25 308.27,103.12 308.95,107.99 309.62,110.91 310.3,112.86 310.97,114.8 311.64,115.54 312.32,116.27 312.99,117 313.66,117.23 314.34,117.46 315.01,117.69 315.68,117.92 316.36,118.04 317.03,118.1 317.7,118.16 318.38,118.22 319.05,118.28" fill="none" stroke="#111" stroke-width="1.15" stroke-linejoin="round"/>
<g fill="#111"><circle cx="195.8" cy="118.3" r="0.75"/><circle cx="197.15" cy="114.7" r="0.75"/><circle cx="198.49" cy="109.91" r="0.75"/><circle cx="199.17" cy="106.31" r="0.75"/><circle cx="199.84" cy="102.72" r="0.75"/><circle cx="200.51" cy="98.27" r="0.75"/><circle cx="201.19" cy="92.11" r="0.75"/><circle cx="201.86" cy="85.96" r="0.75"/><circle cx="202.54" cy="79.8" r="0.75"/><circle cx="203.21" cy="73.64" r="0.75"/><circle cx="204.56" cy="69.2" r="0.75"/><circle cx="205.9" cy="64.75" r="0.75"/><circle cx="208.6" cy="65.39" r="0.75"/><circle cx="211.29" cy="62.59" r="0.75"/><circle cx="213.31" cy="59.96" r="0.75"/><circle cx="214.66" cy="54.96" r="0.75"/><circle cx="215.33" cy="51.67" r="0.75"/><circle cx="216.01" cy="48.37" r="0.75"/><circle cx="217.35" cy="44.83" r="0.75"/><circle cx="218.7" cy="42.18" r="0.75"/><circle cx="221.39" cy="40.42" r="0.75"/><circle cx="224.76" cy="39.25" r="0.75"/><circle cx="228.13" cy="38.15" r="0.75"/><circle cx="231.5" cy="36.85" r="0.75"/><circle cx="234.86" cy="36.05" r="0.75"/><circle cx="238.23" cy="36.05" r="0.75"/><circle cx="241.6" cy="35.35" r="0.75"/><circle cx="244.97" cy="34.58" r="0.75"/><circle cx="248.33" cy="33.55" r="0.75"/><circle cx="251.7" cy="32.52" r="0.75"/><circle cx="255.07" cy="32.06" r="0.75"/><circle cx="258.44" cy="31.69" r="0.75"/><circle cx="261.8" cy="31.45" r="0.75"/><circle cx="265.17" cy="31.75" r="0.75"/><circle cx="268.54" cy="31.89" r="0.75"/><circle cx="271.91" cy="31.89" r="0.75"/><circle cx="274.6" cy="30.38" r="0.75"/><circle cx="277.97" cy="29.37" r="0.75"/><circle cx="281.33" cy="29.21" r="0.75"/><circle cx="284.7" cy="30.21" r="0.75"/><circle cx="287.4" cy="32.64" r="0.75"/><circle cx="290.09" cy="35.1" r="0.75"/><circle cx="292.78" cy="36.7" r="0.75"/><circle cx="295.48" cy="38.07" r="0.75"/><circle cx="298.17" cy="40.38" r="0.75"/><circle cx="300.19" cy="43.65" r="0.75"/><circle cx="301.54" cy="47.23" r="0.75"/><circle cx="302.89" cy="52.79" r="0.75"/><circle cx="303.56" cy="56.22" r="0.75"/><circle cx="304.23" cy="60.96" r="0.75"/><circle cx="304.91" cy="66.35" r="0.75"/><circle cx="305.58" cy="75.34" r="0.75"/><circle cx="306.25" cy="83.88" r="0.75"/><circle cx="306.93" cy="91.53" r="0.75"/><circle cx="307.6" cy="98.25" r="0.75"/><circle cx="308.27" cy="103.12" r="0.75"/><circle cx="308.95" cy="107.99" r="0.75"/><circle cx="310.3" cy="112.86" r="0.75"/><circle cx="311.64" cy="115.54" r="0.75"/><circle cx="314.34" cy="117.46" r="0.75"/><circle cx="317.7" cy="118.16" r="0.75"/></g>
<polyline points="195.8,118.3 196.47,116.2 197.15,114.1 197.82,112.01 198.49,108.51 199.17,104.31 199.84,100.12 200.51,95.09 201.19,88.41 201.86,81.72 202.54,75.04 203.21,68.35 203.88,65.8 204.56,63.26 205.23,60.71 205.9,58.16 206.58,58.67 207.25,59.18 207.92,59.69 208.6,59.59 209.27,59.19 209.94,58.79 210.62,58.39 211.29,57.99 211.96,57.26 212.64,56.36 213.31,55.46 213.98,53.81 214.66,50.67 215.33,47.52 216.01,44.37 216.68,42.88 217.35,41.38 218.03,39.88 218.7,39.05 219.37,38.55 220.05,38.05 220.72,37.55 221.39,37.05 222.07,36.81 222.74,36.71 223.41,36.62 224.09,36.52 224.76,36.42 225.43,36.38 226.11,36.38 226.78,36.38 227.45,36.38 228.13,36.38 228.8,36.38 229.48,36.38 230.15,36.33 230.82,36.16 231.5,36 232.17,35.83 232.84,35.67 233.52,35.5 234.19,35.34 234.86,35.17 235.54,35.01 236.21,34.84 236.88,34.68 237.56,34.51 238.23,34.35 238.9,34.18 239.58,34.01 240.25,33.85 240.92,33.68 241.6,33.55 242.27,33.41 242.95,33.27 243.62,33.13 244.29,33 244.97,32.86 245.64,32.72 246.31,32.58 246.99,32.44 247.66,32.31 248.33,32.17 249.01,32.03 249.68,31.89 250.35,31.75 251.03,31.62 251.7,31.48 252.37,31.35 253.05,31.23 253.72,31.11 254.39,30.99 255.07,30.87 255.74,30.75 256.42,30.63 257.09,30.51 257.76,30.39 258.44,30.27 259.11,30.24 259.78,30.38 260.46,30.53 261.13,30.67 261.8,30.82 262.48,30.96 263.15,31.11 263.82,31.26 264.5,31.4 265.17,31.55 265.84,31.69 266.52,31.84 267.19,31.75 267.86,31.54 268.54,31.33 269.21,31.12 269.88,30.91 270.56,30.7 271.23,30.49 271.91,30.28 272.58,30.07 273.25,29.86 273.93,29.65 274.6,29.44 275.27,29.23 275.95,29.06 276.62,28.98 277.29,28.91 277.97,28.83 278.64,28.75 279.31,28.67 279.99,28.59 280.66,28.65 281.33,28.71 282.01,28.77 282.68,28.83 283.36,28.89 284.03,29.3 284.7,29.71 285.38,30.12 286.05,30.64 286.72,31.39 287.4,32.14 288.07,32.89 288.74,33.63 289.42,34.17 290.09,34.6 290.76,35.03 291.44,35.45 292.11,35.88 292.78,36.2 293.46,36.52 294.13,36.85 294.8,37.17 295.48,37.57 296.15,38.15 296.83,38.73 297.5,39.3 298.17,39.88 298.85,40.97 299.52,42.06 300.19,43.15 300.87,44.59 301.54,46.73 302.21,48.87 302.89,52.29 303.56,55.72 304.23,60.66 304.91,66.35 305.58,75.34 306.25,83.88 306.93,91.53 307.6,98.25 308.27,103.12 308.95,107.99 309.62,110.91 310.3,112.86 310.97,114.8 311.64,115.54 312.32,116.27 312.99,117 313.66,117.23 314.34,117.46 315.01,117.69 315.68,117.92 316.36,118.04 317.03,118.1 317.7,118.16 318.38,118.22 319.05,118.28" fill="none" stroke="#e3171d" stroke-width="1.15" stroke-linejoin="round"/>
<g fill="#e3171d"><circle cx="195.8" cy="118.3" r="0.75"/><circle cx="197.15" cy="114.1" r="0.75"/><circle cx="198.49" cy="108.51" r="0.75"/><circle cx="199.17" cy="104.31" r="0.75"/><circle cx="199.84" cy="100.12" r="0.75"/><circle cx="200.51" cy="95.09" r="0.75"/><circle cx="201.19" cy="88.41" r="0.75"/><circle cx="201.86" cy="81.72" r="0.75"/><circle cx="202.54" cy="75.04" r="0.75"/><circle cx="203.21" cy="68.35" r="0.75"/><circle cx="204.56" cy="63.26" r="0.75"/><circle cx="205.9" cy="58.16" r="0.75"/><circle cx="208.6" cy="59.59" r="0.75"/><circle cx="211.29" cy="57.99" r="0.75"/><circle cx="213.31" cy="55.46" r="0.75"/><circle cx="214.66" cy="50.67" r="0.75"/><circle cx="215.33" cy="47.52" r="0.75"/><circle cx="216.01" cy="44.37" r="0.75"/><circle cx="217.35" cy="41.38" r="0.75"/><circle cx="219.37" cy="38.55" r="0.75"/><circle cx="222.07" cy="36.81" r="0.75"/><circle cx="225.43" cy="36.38" r="0.75"/><circle cx="228.8" cy="36.38" r="0.75"/><circle cx="232.17" cy="35.83" r="0.75"/><circle cx="235.54" cy="35.01" r="0.75"/><circle cx="238.9" cy="34.18" r="0.75"/><circle cx="242.27" cy="33.41" r="0.75"/><circle cx="245.64" cy="32.72" r="0.75"/><circle cx="249.01" cy="32.03" r="0.75"/><circle cx="252.37" cy="31.35" r="0.75"/><circle cx="255.74" cy="30.75" r="0.75"/><circle cx="259.11" cy="30.24" r="0.75"/><circle cx="262.48" cy="30.96" r="0.75"/><circle cx="265.84" cy="31.69" r="0.75"/><circle cx="269.21" cy="31.12" r="0.75"/><circle cx="272.58" cy="30.07" r="0.75"/><circle cx="275.95" cy="29.06" r="0.75"/><circle cx="279.31" cy="28.67" r="0.75"/><circle cx="282.68" cy="28.83" r="0.75"/><circle cx="285.38" cy="30.12" r="0.75"/><circle cx="288.07" cy="32.89" r="0.75"/><circle cx="290.76" cy="35.03" r="0.75"/><circle cx="293.46" cy="36.52" r="0.75"/><circle cx="296.15" cy="38.15" r="0.75"/><circle cx="298.85" cy="40.97" r="0.75"/><circle cx="300.87" cy="44.59" r="0.75"/><circle cx="302.21" cy="48.87" r="0.75"/><circle cx="302.89" cy="52.29" r="0.75"/><circle cx="303.56" cy="55.72" r="0.75"/><circle cx="304.23" cy="60.66" r="0.75"/><circle cx="304.91" cy="66.35" r="0.75"/><circle cx="305.58" cy="75.34" r="0.75"/><circle cx="306.25" cy="83.88" r="0.75"/><circle cx="306.93" cy="91.53" r="0.75"/><circle cx="307.6" cy="98.25" r="0.75"/><circle cx="308.27" cy="103.12" r="0.75"/><circle cx="308.95" cy="107.99" r="0.75"/><circle cx="310.3" cy="112.86" r="0.75"/><circle cx="311.64" cy="115.54" r="0.75"/><circle cx="314.34" cy="117.46" r="0.75"/><circle cx="317.7" cy="118.16" r="0.75"/></g>
<polyline points="195.8,118.3 196.47,115.9 197.15,113.5 197.82,111.11 198.49,106.91 199.17,101.82 199.84,96.72 200.51,90.33 201.19,81.34 201.86,74.78 202.54,69.43 203.21,64.09 203.88,58.74 204.56,55.56 205.23,53.46 205.9,51.37 206.58,52.23 207.25,53.09 207.92,53.71 208.6,53.86 209.27,53.05 209.94,52.23 210.62,51.41 211.29,50.58 211.96,49.7 212.64,48.83 213.31,47.95 213.98,46.25 214.66,42.88 215.33,39.5 216.01,36.92 216.68,34.74 217.35,33.23 218.03,33.07 218.7,32.91 219.37,32.75 220.05,32.59 220.72,32.16 221.39,31.17 222.07,30.18 222.74,29.19 223.41,30.54 224.09,31.89 224.76,33.24 225.43,33.38 226.11,32.92 226.78,32.46 227.45,32 228.13,31.54 228.8,31.17 229.48,30.85 230.15,30.53 230.82,30.2 231.5,29.88 232.17,29.56 232.84,29.24 233.52,28.91 234.19,28.59 234.86,28.5 235.54,28.41 236.21,28.32 236.88,28.23 237.56,28.14 238.23,28.05 238.9,27.87 239.58,27.5 240.25,27.14 240.92,26.77 241.6,26.4 242.27,26.04 242.95,25.82 243.62,25.91 244.29,26 244.97,26.09 245.64,26.17 246.31,26.26 246.99,26.29 247.66,26.29 248.33,26.29 249.01,26.29 249.68,26.29 250.35,26.29 251.03,26.29 251.7,26.29 252.37,26.21 253.05,25.97 253.72,25.72 254.39,25.48 255.07,25.23 255.74,24.99 256.42,24.75 257.09,24.5 257.76,24.26 258.44,24.14 259.11,24.29 259.78,24.43 260.46,24.57 261.13,24.72 261.8,24.86 262.48,25 263.15,25.15 263.82,25.25 264.5,25.34 265.17,25.43 265.84,25.52 266.52,25.61 267.19,25.7 267.86,25.79 268.54,25.97 269.21,26.14 269.88,26.31 270.56,26.49 271.23,26.66 271.91,26.83 272.58,26.46 273.25,25.81 273.93,25.16 274.6,24.51 275.27,23.86 275.95,23.21 276.62,23.07 277.29,23.17 277.97,23.28 278.64,23.38 279.31,23.49 279.99,23.59 280.66,23.94 281.33,24.29 282.01,24.64 282.68,24.99 283.36,25.51 284.03,26.02 284.7,26.53 285.38,27.05 286.05,27.73 286.72,28.73 287.4,29.74 288.07,30.74 288.74,31.75 289.42,32.41 290.09,32.91 290.76,33.4 291.44,33.89 292.11,34.38 292.78,34.73 293.46,35.07 294.13,35.41 294.8,35.75 295.48,36.17 296.15,36.72 296.83,37.27 297.5,37.83 298.17,38.38 298.85,39.47 299.52,40.56 300.19,41.65 300.87,43.13 301.54,45.4 302.21,47.67 302.89,51.01 303.56,54.35 304.23,59.82 304.91,66.35 305.58,75.34 306.25,83.88 306.93,91.53 307.6,98.25 308.27,103.12 308.95,107.99 309.62,110.91 310.3,112.86 310.97,114.8 311.64,115.54 312.32,116.27 312.99,117 313.66,117.23 314.34,117.46 315.01,117.69 315.68,117.92 316.36,118.04 317.03,118.1 317.7,118.16 318.38,118.22 319.05,118.28" fill="none" stroke="#1c1ccc" stroke-width="1.15" stroke-linejoin="round"/>
<g fill="#1c1ccc"><circle cx="195.8" cy="118.3" r="0.75"/><circle cx="197.15" cy="113.5" r="0.75"/><circle cx="198.49" cy="106.91" r="0.75"/><circle cx="199.17" cy="101.82" r="0.75"/><circle cx="199.84" cy="96.72" r="0.75"/><circle cx="200.51" cy="90.33" r="0.75"/><circle cx="201.19" cy="81.34" r="0.75"/><circle cx="201.86" cy="74.78" r="0.75"/><circle cx="202.54" cy="69.43" r="0.75"/><circle cx="203.21" cy="64.09" r="0.75"/><circle cx="203.88" cy="58.74" r="0.75"/><circle cx="204.56" cy="55.56" r="0.75"/><circle cx="205.9" cy="51.37" r="0.75"/><circle cx="207.92" cy="53.71" r="0.75"/><circle cx="210.62" cy="51.41" r="0.75"/><circle cx="212.64" cy="48.83" r="0.75"/><circle cx="214.66" cy="42.88" r="0.75"/><circle cx="215.33" cy="39.5" r="0.75"/><circle cx="216.68" cy="34.74" r="0.75"/><circle cx="218.7" cy="32.91" r="0.75"/><circle cx="221.39" cy="31.17" r="0.75"/><circle cx="223.41" cy="30.54" r="0.75"/><circle cx="224.76" cy="33.24" r="0.75"/><circle cx="227.45" cy="32" r="0.75"/><circle cx="230.15" cy="30.53" r="0.75"/><circle cx="233.52" cy="28.91" r="0.75"/><circle cx="236.88" cy="28.23" r="0.75"/><circle cx="240.25" cy="27.14" r="0.75"/><circle cx="242.95" cy="25.82" r="0.75"/><circle cx="246.31" cy="26.26" r="0.75"/><circle cx="249.68" cy="26.29" r="0.75"/><circle cx="253.05" cy="25.97" r="0.75"/><circle cx="256.42" cy="24.75" r="0.75"/><circle cx="259.78" cy="24.43" r="0.75"/><circle cx="263.15" cy="25.15" r="0.75"/><circle cx="266.52" cy="25.61" r="0.75"/><circle cx="269.88" cy="26.31" r="0.75"/><circle cx="273.25" cy="25.81" r="0.75"/><circle cx="275.95" cy="23.21" r="0.75"/><circle cx="279.31" cy="23.49" r="0.75"/><circle cx="282.68" cy="24.99" r="0.75"/><circle cx="285.38" cy="27.05" r="0.75"/><circle cx="287.4" cy="29.74" r="0.75"/><circle cx="289.42" cy="32.41" r="0.75"/><circle cx="292.11" cy="34.38" r="0.75"/><circle cx="294.8" cy="35.75" r="0.75"/><circle cx="297.5" cy="37.83" r="0.75"/><circle cx="299.52" cy="40.56" r="0.75"/><circle cx="301.54" cy="45.4" r="0.75"/><circle cx="302.89" cy="51.01" r="0.75"/><circle cx="303.56" cy="54.35" r="0.75"/><circle cx="304.23" cy="59.82" r="0.75"/><circle cx="304.91" cy="66.35" r="0.75"/><circle cx="305.58" cy="75.34" r="0.75"/><circle cx="306.25" cy="83.88" r="0.75"/><circle cx="306.93" cy="91.53" r="0.75"/><circle cx="307.6" cy="98.25" r="0.75"/><circle cx="308.27" cy="103.12" r="0.75"/><circle cx="308.95" cy="107.99" r="0.75"/><circle cx="310.3" cy="112.86" r="0.75"/><circle cx="311.64" cy="115.54" r="0.75"/><circle cx="314.34" cy="117.46" r="0.75"/><circle cx="317.7" cy="118.16" r="0.75"/></g>
<polyline points="195.8,118.3 196.47,116.05 197.15,113.8 197.82,111.56 198.49,107.71 199.17,103.07 199.84,98.42 200.51,92.86 201.19,85.49 201.86,78.11 202.54,70.73 203.21,63.35 203.88,61.11 204.56,58.86 205.23,56.61 205.9,54.36 206.58,55.11 207.25,55.86 207.92,56.61 208.6,56.6 209.27,56.2 209.94,55.8 210.62,55.4 211.29,55 211.96,54.16 212.64,53.12 213.31,52.07 213.98,50.27 214.66,46.97 215.33,43.67 216.01,40.38 216.68,39.33 217.35,38.28 218.03,37.23 218.7,36.68 219.37,36.38 220.05,36.08 220.72,35.78 221.39,35.48 222.07,35.32 222.74,35.22 223.41,35.12 224.09,35.02 224.76,34.92 225.43,34.66 226.11,34.32 226.78,33.98 227.45,33.63 228.13,33.29 228.8,32.95 229.48,32.61 230.15,32.33 230.82,32.17 231.5,32 232.17,31.84 232.84,31.67 233.52,31.51 234.19,31.34 234.86,31.17 235.54,31.01 236.21,30.84 236.88,30.68 237.56,30.51 238.23,30.35 238.9,30.18 239.58,30.02 240.25,29.85 240.92,29.69 241.6,29.65 242.27,29.62 242.95,29.58 243.62,29.54 244.29,29.51 244.97,29.47 245.64,29.44 246.31,29.4 246.99,29.37 247.66,29.33 248.33,29.29 249.01,29.26 249.68,29.22 250.35,29.19 251.03,29.15 251.7,29.11 252.37,29.03 253.05,28.86 253.72,28.69 254.39,28.52 255.07,28.35 255.74,28.18 256.42,28.01 257.09,27.84 257.76,27.67 258.44,27.5 259.11,27.42 259.78,27.51 260.46,27.6 261.13,27.69 261.8,27.78 262.48,27.87 263.15,27.96 263.82,28.12 264.5,28.3 265.17,28.49 265.84,28.68 266.52,28.87 267.19,29.06 267.86,29.25 268.54,29.43 269.21,29.62 269.88,29.81 270.56,30 271.23,30.19 271.91,29.86 272.58,29.53 273.25,29.2 273.93,28.87 274.6,28.54 275.27,28.21 275.95,27.99 276.62,27.99 277.29,27.99 277.97,27.99 278.64,27.99 279.31,27.99 279.99,27.99 280.66,28.22 281.33,28.44 282.01,28.66 282.68,28.89 283.36,29.46 284.03,30.03 284.7,30.6 285.38,31.17 286.05,31.74 286.72,32.31 287.4,32.89 288.07,33.55 288.74,34.21 289.42,34.88 290.09,35.54 290.76,36.2 291.44,36.86 292.11,37.51 292.78,38.17 293.46,38.83 294.13,39.48 294.8,40.14 295.48,40.66 296.15,40.9 296.83,41.14 297.5,41.38 298.17,41.86 298.85,42.34 299.52,42.82 300.19,44.75 300.87,47.4 301.54,50.5 302.21,54.48 302.89,58.46 303.56,61.09 304.23,63.72 304.91,66.35 305.58,75.34 306.25,83.88 306.93,91.53 307.6,98.25 308.27,103.12 308.95,107.99 309.62,110.91 310.3,112.86 310.97,114.8 311.64,115.54 312.32,116.27 312.99,117 313.66,117.23 314.34,117.46 315.01,117.69 315.68,117.92 316.36,118.04 317.03,118.1 317.7,118.16 318.38,118.22 319.05,118.28" fill="none" stroke="#2fd82f" stroke-width="1.15" stroke-linejoin="round"/>
<g fill="#2fd82f"><circle cx="195.8" cy="118.3" r="0.75"/><circle cx="197.15" cy="113.8" r="0.75"/><circle cx="198.49" cy="107.71" r="0.75"/><circle cx="199.17" cy="103.07" r="0.75"/><circle cx="199.84" cy="98.42" r="0.75"/><circle cx="200.51" cy="92.86" r="0.75"/><circle cx="201.19" cy="85.49" r="0.75"/><circle cx="201.86" cy="78.11" r="0.75"/><circle cx="202.54" cy="70.73" r="0.75"/><circle cx="203.21" cy="63.35" r="0.75"/><circle cx="204.56" cy="58.86" r="0.75"/><circle cx="205.9" cy="54.36" r="0.75"/><circle cx="207.92" cy="56.61" r="0.75"/><circle cx="210.62" cy="55.4" r="0.75"/><circle cx="212.64" cy="53.12" r="0.75"/><circle cx="213.98" cy="50.27" r="0.75"/><circle cx="214.66" cy="46.97" r="0.75"/><circle cx="215.33" cy="43.67" r="0.75"/><circle cx="216.01" cy="40.38" r="0.75"/><circle cx="218.03" cy="37.23" r="0.75"/><circle cx="220.72" cy="35.78" r="0.75"/><circle cx="224.09" cy="35.02" r="0.75"/><circle cx="227.45" cy="33.63" r="0.75"/><circle cx="230.82" cy="32.17" r="0.75"/><circle cx="234.19" cy="31.34" r="0.75"/><circle cx="237.56" cy="30.51" r="0.75"/><circle cx="240.92" cy="29.69" r="0.75"/><circle cx="244.29" cy="29.51" r="0.75"/><circle cx="247.66" cy="29.33" r="0.75"/><circle cx="251.03" cy="29.15" r="0.75"/><circle cx="254.39" cy="28.52" r="0.75"/><circle cx="257.76" cy="27.67" r="0.75"/><circle cx="261.13" cy="27.69" r="0.75"/><circle cx="264.5" cy="28.3" r="0.75"/><circle cx="267.86" cy="29.25" r="0.75"/><circle cx="271.23" cy="30.19" r="0.75"/><circle cx="274.6" cy="28.54" r="0.75"/><circle cx="277.97" cy="27.99" r="0.75"/><circle cx="281.33" cy="28.44" r="0.75"/><circle cx="284.03" cy="30.03" r="0.75"/><circle cx="286.72" cy="32.31" r="0.75"/><circle cx="289.42" cy="34.88" r="0.75"/><circle cx="292.11" cy="37.51" r="0.75"/><circle cx="294.8" cy="40.14" r="0.75"/><circle cx="298.17" cy="41.86" r="0.75"/><circle cx="300.19" cy="44.75" r="0.75"/><circle cx="301.54" cy="50.5" r="0.75"/><circle cx="302.21" cy="54.48" r="0.75"/><circle cx="302.89" cy="58.46" r="0.75"/><circle cx="304.23" cy="63.72" r="0.75"/><circle cx="305.58" cy="75.34" r="0.75"/><circle cx="306.25" cy="83.88" r="0.75"/><circle cx="306.93" cy="91.53" r="0.75"/><circle cx="307.6" cy="98.25" r="0.75"/><circle cx="308.27" cy="103.12" r="0.75"/><circle cx="308.95" cy="107.99" r="0.75"/><circle cx="310.3" cy="112.86" r="0.75"/><circle cx="311.64" cy="115.54" r="0.75"/><circle cx="314.34" cy="117.46" r="0.75"/><circle cx="317.7" cy="118.16" r="0.75"/></g>
<polyline points="195.8,118.3 196.53,118.28 197.55,118.26 198.75,118.24 200.04,118.21 201.33,118.17 202.54,118.11 203.67,118.05 204.81,117.98 205.96,117.91 207.09,117.82 208.2,117.7 209.27,117.54 210.28,117.36 211.23,117.17 212.16,116.94 213.09,116.69 214.07,116.38 215.11,116.02 216.22,115.61 217.39,115.16 218.6,114.66 219.83,114.12 221.07,113.52 222.29,112.87 223.51,112.16 224.74,111.39 225.98,110.56 227.22,109.7 228.46,108.82 229.7,107.94 230.95,107.05 232.23,106.13 233.5,105.2 234.75,104.25 235.96,103.31 237.11,102.36 238.17,101.43 239.15,100.5 240.1,99.56 241.02,98.62 241.96,97.66 242.95,96.67 243.93,95.7 244.9,94.74 245.88,93.77 246.9,92.74 248.01,91.62 249.23,90.37 250.59,88.98 252.07,87.46 253.64,85.85 255.24,84.17 256.85,82.46 258.44,80.73 259.99,78.97 261.55,77.15 263.11,75.29 264.68,73.42 266.26,71.56 267.86,69.73 269.5,67.93 271.16,66.15 272.83,64.37 274.5,62.6 276.14,60.85 277.74,59.11 279.31,57.35 280.88,55.58 282.41,53.82 283.91,52.09 285.35,50.43 286.72,48.86 288.01,47.38 289.23,45.98 290.38,44.64 291.5,43.35 292.6,42.11 293.68,40.89 294.74,39.7 295.76,38.55 296.75,37.44 297.74,36.38 298.73,35.38 299.74,34.44 300.78,33.56 301.82,32.73 302.87,31.96 303.93,31.26 304.98,30.63 306.03,30.08 307.07,29.62 308.1,29.26 309.13,28.97 310.17,28.74 311.23,28.55 312.32,28.37 313.52,28.23 314.84,28.13 316.19,28.07 317.45,28.04 318.51,28.02 319.28,27.99" fill="none" stroke="#111" stroke-width="1.1" stroke-linejoin="round"/>
<g fill="#111"><circle cx="195.8" cy="118.3" r="0.6"/><circle cx="200.04" cy="118.21" r="0.6"/><circle cx="203.67" cy="118.05" r="0.6"/><circle cx="207.09" cy="117.82" r="0.6"/><circle cx="210.28" cy="117.36" r="0.6"/><circle cx="214.07" cy="116.38" r="0.6"/><circle cx="217.39" cy="115.16" r="0.6"/><circle cx="221.07" cy="113.52" r="0.6"/><circle cx="224.74" cy="111.39" r="0.6"/><circle cx="228.46" cy="108.82" r="0.6"/><circle cx="232.23" cy="106.13" r="0.6"/><circle cx="235.96" cy="103.31" r="0.6"/><circle cx="239.15" cy="100.5" r="0.6"/><circle cx="241.96" cy="97.66" r="0.6"/><circle cx="244.9" cy="94.74" r="0.6"/><circle cx="248.01" cy="91.62" r="0.6"/><circle cx="250.59" cy="88.98" r="0.6"/><circle cx="253.64" cy="85.85" r="0.6"/><circle cx="256.85" cy="82.46" r="0.6"/><circle cx="259.99" cy="78.97" r="0.6"/><circle cx="263.11" cy="75.29" r="0.6"/><circle cx="266.26" cy="71.56" r="0.6"/><circle cx="269.5" cy="67.93" r="0.6"/><circle cx="272.83" cy="64.37" r="0.6"/><circle cx="276.14" cy="60.85" r="0.6"/><circle cx="279.31" cy="57.35" r="0.6"/><circle cx="282.41" cy="53.82" r="0.6"/><circle cx="285.35" cy="50.43" r="0.6"/><circle cx="288.01" cy="47.38" r="0.6"/><circle cx="290.38" cy="44.64" r="0.6"/><circle cx="292.6" cy="42.11" r="0.6"/><circle cx="294.74" cy="39.7" r="0.6"/><circle cx="297.74" cy="36.38" r="0.6"/><circle cx="300.78" cy="33.56" r="0.6"/><circle cx="303.93" cy="31.26" r="0.6"/><circle cx="307.07" cy="29.62" r="0.6"/><circle cx="310.17" cy="28.74" r="0.6"/><circle cx="313.52" cy="28.23" r="0.6"/><circle cx="317.45" cy="28.04" r="0.6"/></g>
<polyline points="195.8,118.3 196.53,118.28 197.55,118.26 198.75,118.24 200.04,118.21 201.33,118.16 202.54,118.11 203.67,118.05 204.81,117.98 205.96,117.91 207.09,117.81 208.2,117.69 209.27,117.53 210.28,117.35 211.23,117.16 212.16,116.93 213.09,116.67 214.07,116.36 215.11,116 216.22,115.59 217.39,115.13 218.6,114.63 219.83,114.08 221.07,113.48 222.29,112.83 223.51,112.11 224.74,111.32 225.98,110.49 227.22,109.62 228.46,108.74 229.7,107.85 230.95,106.95 232.23,106.03 233.5,105.08 234.75,104.13 235.96,103.17 237.11,102.22 238.17,101.28 239.15,100.34 240.1,99.4 241.02,98.44 241.96,97.47 242.95,96.48 243.93,95.5 244.9,94.53 245.88,93.55 246.9,92.52 248.01,91.39 249.23,90.13 250.59,88.72 252.07,87.18 253.64,85.56 255.24,83.87 256.85,82.14 258.44,80.4 259.99,78.63 261.55,76.79 263.11,74.91 264.68,73.02 266.26,71.14 267.86,69.3 269.5,67.49 271.16,65.68 272.83,63.89 274.5,62.11 276.14,60.34 277.74,58.58 279.31,56.81 280.88,55.02 282.41,53.25 283.91,51.51 285.35,49.83 286.72,48.25 288.01,46.76 289.23,45.34 290.38,43.99 291.5,42.69 292.6,41.43 293.68,40.21 294.74,39.01 295.76,37.85 296.75,36.73 297.74,35.66 298.73,34.64 299.74,33.7 300.78,32.81 301.82,31.98 302.87,31.2 303.93,30.49 304.98,29.85 306.03,29.3 307.07,28.84 308.1,28.47 309.13,28.18 310.17,27.95 311.23,27.75 312.32,27.57 313.52,27.43 314.84,27.33 316.19,27.27 317.45,27.24 318.51,27.22 319.28,27.19" fill="none" stroke="#e3171d" stroke-width="1.1" stroke-linejoin="round"/>
<g fill="#e3171d"><circle cx="195.8" cy="118.3" r="0.6"/><circle cx="200.04" cy="118.21" r="0.6"/><circle cx="203.67" cy="118.05" r="0.6"/><circle cx="207.09" cy="117.81" r="0.6"/><circle cx="210.28" cy="117.35" r="0.6"/><circle cx="214.07" cy="116.36" r="0.6"/><circle cx="217.39" cy="115.13" r="0.6"/><circle cx="221.07" cy="113.48" r="0.6"/><circle cx="224.74" cy="111.32" r="0.6"/><circle cx="228.46" cy="108.74" r="0.6"/><circle cx="232.23" cy="106.03" r="0.6"/><circle cx="235.96" cy="103.17" r="0.6"/><circle cx="239.15" cy="100.34" r="0.6"/><circle cx="241.96" cy="97.47" r="0.6"/><circle cx="244.9" cy="94.53" r="0.6"/><circle cx="248.01" cy="91.39" r="0.6"/><circle cx="250.59" cy="88.72" r="0.6"/><circle cx="253.64" cy="85.56" r="0.6"/><circle cx="256.85" cy="82.14" r="0.6"/><circle cx="259.99" cy="78.63" r="0.6"/><circle cx="263.11" cy="74.91" r="0.6"/><circle cx="266.26" cy="71.14" r="0.6"/><circle cx="269.5" cy="67.49" r="0.6"/><circle cx="272.83" cy="63.89" r="0.6"/><circle cx="276.14" cy="60.34" r="0.6"/><circle cx="279.31" cy="56.81" r="0.6"/><circle cx="282.41" cy="53.25" r="0.6"/><circle cx="285.35" cy="49.83" r="0.6"/><circle cx="288.01" cy="46.76" r="0.6"/><circle cx="290.38" cy="43.99" r="0.6"/><circle cx="292.6" cy="41.43" r="0.6"/><circle cx="294.74" cy="39.01" r="0.6"/><circle cx="297.74" cy="35.66" r="0.6"/><circle cx="300.78" cy="32.81" r="0.6"/><circle cx="303.93" cy="30.49" r="0.6"/><circle cx="307.07" cy="28.84" r="0.6"/><circle cx="310.17" cy="27.95" r="0.6"/><circle cx="313.52" cy="27.43" r="0.6"/><circle cx="317.45" cy="27.24" r="0.6"/></g>
<polyline points="195.8,118.3 196.53,118.28 197.55,118.26 198.75,118.24 200.04,118.2 201.33,118.16 202.54,118.1 203.67,118.04 204.81,117.97 205.96,117.89 207.09,117.79 208.2,117.66 209.27,117.5 210.28,117.31 211.23,117.11 212.16,116.87 213.09,116.6 214.07,116.28 215.11,115.91 216.22,115.48 217.39,115 218.6,114.48 219.83,113.9 221.07,113.28 222.29,112.6 223.51,111.85 224.74,111.03 225.98,110.17 227.22,109.26 228.46,108.34 229.7,107.41 230.95,106.48 232.23,105.51 233.5,104.53 234.75,103.54 235.96,102.54 237.11,101.55 238.17,100.57 239.15,99.59 240.1,98.61 241.02,97.62 241.96,96.61 242.95,95.57 243.93,94.54 244.9,93.54 245.88,92.52 246.9,91.44 248.01,90.26 249.23,88.95 250.59,87.48 252.07,85.89 253.64,84.2 255.24,82.44 256.85,80.63 258.44,78.82 259.99,76.97 261.55,75.06 263.11,73.11 264.68,71.14 266.26,69.18 267.86,67.26 269.5,65.37 271.16,63.49 272.83,61.63 274.5,59.77 276.14,57.93 277.74,56.09 279.31,54.25 280.88,52.39 282.41,50.54 283.91,48.72 285.35,46.98 286.72,45.33 288.01,43.77 289.23,42.3 290.38,40.89 291.5,39.54 292.6,38.23 293.68,36.95 294.74,35.71 295.76,34.49 296.75,33.33 297.74,32.21 298.73,31.16 299.74,30.17 300.78,29.25 301.82,28.38 302.87,27.57 303.93,26.83 304.98,26.17 306.03,25.59 307.07,25.11 308.1,24.73 309.13,24.43 310.17,24.19 311.23,23.98 312.32,23.79 313.52,23.64 314.84,23.54 316.19,23.48 317.45,23.45 318.51,23.42 319.28,23.39" fill="none" stroke="#1c1ccc" stroke-width="1.1" stroke-linejoin="round"/>
<g fill="#1c1ccc"><circle cx="195.8" cy="118.3" r="0.6"/><circle cx="200.04" cy="118.2" r="0.6"/><circle cx="203.67" cy="118.04" r="0.6"/><circle cx="207.09" cy="117.79" r="0.6"/><circle cx="210.28" cy="117.31" r="0.6"/><circle cx="214.07" cy="116.28" r="0.6"/><circle cx="217.39" cy="115" r="0.6"/><circle cx="221.07" cy="113.28" r="0.6"/><circle cx="224.74" cy="111.03" r="0.6"/><circle cx="228.46" cy="108.34" r="0.6"/><circle cx="232.23" cy="105.51" r="0.6"/><circle cx="234.75" cy="103.54" r="0.6"/><circle cx="238.17" cy="100.57" r="0.6"/><circle cx="241.02" cy="97.62" r="0.6"/><circle cx="243.93" cy="94.54" r="0.6"/><circle cx="246.9" cy="91.44" r="0.6"/><circle cx="249.23" cy="88.95" r="0.6"/><circle cx="252.07" cy="85.89" r="0.6"/><circle cx="255.24" cy="82.44" r="0.6"/><circle cx="258.44" cy="78.82" r="0.6"/><circle cx="261.55" cy="75.06" r="0.6"/><circle cx="264.68" cy="71.14" r="0.6"/><circle cx="267.86" cy="67.26" r="0.6"/><circle cx="271.16" cy="63.49" r="0.6"/><circle cx="274.5" cy="59.77" r="0.6"/><circle cx="277.74" cy="56.09" r="0.6"/><circle cx="280.88" cy="52.39" r="0.6"/><circle cx="283.91" cy="48.72" r="0.6"/><circle cx="286.72" cy="45.33" r="0.6"/><circle cx="289.23" cy="42.3" r="0.6"/><circle cx="291.5" cy="39.54" r="0.6"/><circle cx="293.68" cy="36.95" r="0.6"/><circle cx="295.76" cy="34.49" r="0.6"/><circle cx="298.73" cy="31.16" r="0.6"/><circle cx="301.82" cy="28.38" r="0.6"/><circle cx="304.98" cy="26.17" r="0.6"/><circle cx="308.1" cy="24.73" r="0.6"/><circle cx="311.23" cy="23.98" r="0.6"/><circle cx="314.84" cy="23.54" r="0.6"/><circle cx="318.51" cy="23.42" r="0.6"/></g>
<polyline points="195.8,118.3 196.53,118.28 197.55,118.26 198.75,118.24 200.04,118.21 201.33,118.16 202.54,118.1 203.67,118.04 204.81,117.97 205.96,117.9 207.09,117.8 208.2,117.68 209.27,117.52 210.28,117.33 211.23,117.13 212.16,116.9 213.09,116.64 214.07,116.32 215.11,115.95 216.22,115.53 217.39,115.06 218.6,114.55 219.83,113.99 221.07,113.37 222.29,112.71 223.51,111.97 224.74,111.17 225.98,110.32 227.22,109.43 228.46,108.53 229.7,107.62 230.95,106.7 232.23,105.76 233.5,104.79 234.75,103.82 235.96,102.84 237.11,101.87 238.17,100.91 239.15,99.95 240.1,98.98 241.02,98.01 241.96,97.02 242.95,96 243.93,95 244.9,94.01 245.88,93.01 246.9,91.95 248.01,90.8 249.23,89.51 250.59,88.07 252.07,86.5 253.64,84.84 255.24,83.11 256.85,81.35 258.44,79.57 259.99,77.76 261.55,75.88 263.11,73.96 264.68,72.03 266.26,70.11 267.86,68.23 269.5,66.37 271.16,64.53 272.83,62.7 274.5,60.88 276.14,59.07 277.74,57.27 279.31,55.46 280.88,53.64 282.41,51.82 283.91,50.04 285.35,48.33 286.72,46.71 288.01,45.19 289.23,43.74 290.38,42.36 291.5,41.03 292.6,39.75 293.68,38.49 294.74,37.27 295.76,36.08 296.75,34.94 297.74,33.84 298.73,32.81 299.74,31.84 300.78,30.94 301.82,30.08 302.87,29.29 303.93,28.56 304.98,27.91 306.03,27.34 307.07,26.88 308.1,26.5 309.13,26.21 310.17,25.97 311.23,25.77 312.32,25.58 313.52,25.44 314.84,25.34 316.19,25.28 317.45,25.24 318.51,25.22 319.28,25.19" fill="none" stroke="#2fd82f" stroke-width="1.1" stroke-linejoin="round"/>
<g fill="#2fd82f"><circle cx="195.8" cy="118.3" r="0.6"/><circle cx="200.04" cy="118.21" r="0.6"/><circle cx="203.67" cy="118.04" r="0.6"/><circle cx="207.09" cy="117.8" r="0.6"/><circle cx="210.28" cy="117.33" r="0.6"/><circle cx="214.07" cy="116.32" r="0.6"/><circle cx="217.39" cy="115.06" r="0.6"/><circle cx="221.07" cy="113.37" r="0.6"/><circle cx="224.74" cy="111.17" r="0.6"/><circle cx="228.46" cy="108.53" r="0.6"/><circle cx="232.23" cy="105.76" r="0.6"/><circle cx="235.96" cy="102.84" r="0.6"/><circle cx="239.15" cy="99.95" r="0.6"/><circle cx="241.96" cy="97.02" r="0.6"/><circle cx="244.9" cy="94.01" r="0.6"/><circle cx="248.01" cy="90.8" r="0.6"/><circle cx="250.59" cy="88.07" r="0.6"/><circle cx="253.64" cy="84.84" r="0.6"/><circle cx="256.85" cy="81.35" r="0.6"/><circle cx="259.99" cy="77.76" r="0.6"/><circle cx="263.11" cy="73.96" r="0.6"/><circle cx="266.26" cy="70.11" r="0.6"/><circle cx="269.5" cy="66.37" r="0.6"/><circle cx="272.83" cy="62.7" r="0.6"/><circle cx="276.14" cy="59.07" r="0.6"/><circle cx="279.31" cy="55.46" r="0.6"/><circle cx="282.41" cy="51.82" r="0.6"/><circle cx="285.35" cy="48.33" r="0.6"/><circle cx="288.01" cy="45.19" r="0.6"/><circle cx="290.38" cy="42.36" r="0.6"/><circle cx="292.6" cy="39.75" r="0.6"/><circle cx="294.74" cy="37.27" r="0.6"/><circle cx="297.74" cy="33.84" r="0.6"/><circle cx="300.78" cy="30.94" r="0.6"/><circle cx="303.93" cy="28.56" r="0.6"/><circle cx="307.07" cy="26.88" r="0.6"/><circle cx="310.17" cy="25.97" r="0.6"/><circle cx="313.52" cy="25.44" r="0.6"/><circle cx="317.45" cy="25.24" r="0.6"/></g>
<rect x="195.8" y="18.6" width="123.7" height="99.9" fill="none" stroke="#505050" stroke-width="0.9"/>
<line x1="319.5" y1="18.6" x2="319.5" y2="118.5" stroke="#d44a4a" stroke-width="0.9"/>
<path d="M195.8 118.5v-1.6M195.8 18.6v1.6M218.25 118.5v-1.6M218.25 18.6v1.6M240.7 118.5v-1.6M240.7 18.6v1.6M263.15 118.5v-1.6M263.15 18.6v1.6M285.6 118.5v-1.6M285.6 18.6v1.6M308.05 118.5v-1.6M308.05 18.6v1.6M207.03 118.5v-0.96M207.03 18.6v0.96M229.48 118.5v-0.96M229.48 18.6v0.96M251.93 118.5v-0.96M251.93 18.6v0.96M274.38 118.5v-0.96M274.38 18.6v0.96M296.83 118.5v-0.96M296.83 18.6v0.96M319.28 118.5v-0.96M319.28 18.6v0.96" stroke="#505050" stroke-width="0.7" fill="none"/>
<path d="M195.8 118.3h1.6M195.8 98.32h1.6M195.8 78.34h1.6M195.8 58.36h1.6M195.8 38.38h1.6M195.8 18.4h1.6M195.8 108.31h0.96M195.8 88.33h0.96M195.8 68.35h0.96M195.8 48.37h0.96M195.8 28.39h0.96" stroke="#505050" stroke-width="0.7" fill="none"/>
<path d="M319.5 118.3h-1.6M319.5 98.32h-1.6M319.5 78.34h-1.6M319.5 58.36h-1.6M319.5 38.38h-1.6M319.5 18.4h-1.6" stroke="#d44a4a" stroke-width="0.7" fill="none"/>
<text x="195.8" y="126.3" font-size="5.9" text-anchor="middle" fill="#2a2a2a" stroke="#2a2a2a" stroke-width="0.22">300</text>
<text x="218.25" y="126.3" font-size="5.9" text-anchor="middle" fill="#2a2a2a" stroke="#2a2a2a" stroke-width="0.22">400</text>
<text x="240.7" y="126.3" font-size="5.9" text-anchor="middle" fill="#2a2a2a" stroke="#2a2a2a" stroke-width="0.22">500</text>
<text x="263.15" y="126.3" font-size="5.9" text-anchor="middle" fill="#2a2a2a" stroke="#2a2a2a" stroke-width="0.22">600</text>
<text x="285.6" y="126.3" font-size="5.9" text-anchor="middle" fill="#2a2a2a" stroke="#2a2a2a" stroke-width="0.22">700</text>
<text x="308.05" y="126.3" font-size="5.9" text-anchor="middle" fill="#2a2a2a" stroke="#2a2a2a" stroke-width="0.22">800</text>
<text x="193.3" y="120.4" font-size="5.9" text-anchor="end" fill="#2a2a2a" stroke="#2a2a2a" stroke-width="0.22">0</text>
<text x="193.3" y="100.42" font-size="5.9" text-anchor="end" fill="#2a2a2a" stroke="#2a2a2a" stroke-width="0.22">20</text>
<text x="193.3" y="80.44" font-size="5.9" text-anchor="end" fill="#2a2a2a" stroke="#2a2a2a" stroke-width="0.22">40</text>
<text x="193.3" y="60.46" font-size="5.9" text-anchor="end" fill="#2a2a2a" stroke="#2a2a2a" stroke-width="0.22">60</text>
<text x="193.3" y="40.48" font-size="5.9" text-anchor="end" fill="#2a2a2a" stroke="#2a2a2a" stroke-width="0.22">80</text>
<text x="193.3" y="20.5" font-size="5.9" text-anchor="end" fill="#2a2a2a" stroke="#2a2a2a" stroke-width="0.22">100</text>
<text x="321.2" y="120.4" font-size="5.9" text-anchor="start" fill="#dc4646" stroke="#dc4646" stroke-width="0.22">0</text>
<text x="321.2" y="100.42" font-size="5.9" text-anchor="start" fill="#dc4646" stroke="#dc4646" stroke-width="0.22">5</text>
<text x="321.2" y="80.44" font-size="5.9" text-anchor="start" fill="#dc4646" stroke="#dc4646" stroke-width="0.22">10</text>
<text x="321.2" y="60.46" font-size="5.9" text-anchor="start" fill="#dc4646" stroke="#dc4646" stroke-width="0.22">15</text>
<text x="321.2" y="40.48" font-size="5.9" text-anchor="start" fill="#dc4646" stroke="#dc4646" stroke-width="0.22">20</text>
<text x="321.2" y="20.5" font-size="5.9" text-anchor="start" fill="#dc4646" stroke="#dc4646" stroke-width="0.22">25</text>
<text x="260.4" y="135.6" font-size="8.3" text-anchor="middle" fill="#2a2a2a" stroke="#2a2a2a" stroke-width="0.22">Wavelength (nm)</text>
<text transform="translate(183.3 66.9) rotate(-90)" font-size="8.5" text-anchor="middle" fill="#2a2a2a" stroke="#2a2a2a" stroke-width="0.22">EQE (%)</text>
<text transform="translate(336.2 68.6) rotate(-90)" font-size="8.4" text-anchor="middle" fill="#dc4646" stroke="#dc4646" stroke-width="0.22">Integrated Current Density (mA/cm<tspan font-size="4.6" dy="-2.9">2</tspan><tspan dy="2.9">)</tspan></text>
<polyline points="260.4,87.6 274.8,87.6" fill="none" stroke="#111" stroke-width="0.9" stroke-linejoin="round"/>
<g fill="#111"><circle cx="267.6" cy="87.6" r="0.9"/></g>
<text x="277.1" y="89.8" font-size="6.2" text-anchor="start" fill="#2a2a2a" stroke="#2a2a2a" stroke-width="0.22">control</text>
<polyline points="260.4,95.65 274.8,95.65" fill="none" stroke="#e3171d" stroke-width="0.9" stroke-linejoin="round"/>
<g fill="#e3171d"><circle cx="267.6" cy="95.65" r="0.9"/></g>
<text x="277.1" y="97.85" font-size="6.2" text-anchor="start" fill="#2a2a2a" stroke="#2a2a2a" stroke-width="0.22">SIO-2</text>
<polyline points="260.4,103.7 274.8,103.7" fill="none" stroke="#1c1ccc" stroke-width="0.9" stroke-linejoin="round"/>
<g fill="#1c1ccc"><circle cx="267.6" cy="103.7" r="0.9"/></g>
<text x="277.1" y="105.9" font-size="6.2" text-anchor="start" fill="#2a2a2a" stroke="#2a2a2a" stroke-width="0.22">SIO-5</text>
<polyline points="260.4,111.75 274.8,111.75" fill="none" stroke="#2fd82f" stroke-width="0.9" stroke-linejoin="round"/>
<g fill="#2fd82f"><circle cx="267.6" cy="111.75" r="0.9"/></g>
<text x="277.1" y="113.95" font-size="6.2" text-anchor="start" fill="#2a2a2a" stroke="#2a2a2a" stroke-width="0.22">SIO-8</text>
<text x="341.1" y="19.3" font-size="10" text-anchor="start" fill="#2a2a2a" stroke="#2a2a2a" stroke-width="0.22">(c)</text>
<polyline points="364.69,113.28 366.47,118.48 367.96,119.1 370.93,118.99 373.91,118.87 376.88,118.76 379.85,118.64 382.83,118.53 385.8,118.42 388.77,118.3 391.75,118.19 394.72,118.07 397.69,117.96 400.67,117.84 403.64,117.73 406.61,117.61 409.59,117.5 412.56,117.38 415.53,117.27 418.51,117.15 421.48,117.04 424.45,116.92 427.43,116.81 430.4,116.69 433.37,116.58 436.35,116.46 439.32,116.35 442.29,116.24 445.27,116.12 448.24,116.01 451.21,115.89 454.19,115.78 457.16,115.66 460.13,115.55 463.11,115.43 466.08,115.32 469.05,115.2 472.03,115.09 475,114.97 477.97,114.86 480.95,114.74 483.92,114.63 486.89,114.51 489.87,114.4 492.84,114.28 495.81,114.17" fill="none" stroke="#8c8c8c" stroke-width="1.25" stroke-dasharray="1.8,1.1" stroke-linejoin="round"/>
<g fill="#555"><circle cx="367.96" cy="119.1" r="0.55"/><circle cx="373.91" cy="118.87" r="0.55"/><circle cx="379.85" cy="118.64" r="0.55"/><circle cx="385.8" cy="118.42" r="0.55"/><circle cx="391.75" cy="118.19" r="0.55"/><circle cx="397.69" cy="117.96" r="0.55"/><circle cx="403.64" cy="117.73" r="0.55"/><circle cx="409.59" cy="117.5" r="0.55"/><circle cx="415.53" cy="117.27" r="0.55"/><circle cx="421.48" cy="117.04" r="0.55"/><circle cx="427.43" cy="116.81" r="0.55"/><circle cx="433.37" cy="116.58" r="0.55"/><circle cx="439.32" cy="116.35" r="0.55"/><circle cx="445.27" cy="116.12" r="0.55"/><circle cx="451.21" cy="115.89" r="0.55"/><circle cx="457.16" cy="115.66" r="0.55"/><circle cx="463.11" cy="115.43" r="0.55"/><circle cx="469.05" cy="115.2" r="0.55"/><circle cx="475" cy="114.97" r="0.55"/><circle cx="480.95" cy="114.74" r="0.55"/><circle cx="486.89" cy="114.51" r="0.55"/><circle cx="492.84" cy="114.28" r="0.55"/></g>
<polyline points="364.69,113.28 366.47,118.06 367.96,118.69 370.93,118.46 373.91,118.24 376.88,118.01 379.85,117.79 382.83,117.56 385.8,117.34 388.77,117.11 391.75,116.89 394.72,116.67 397.69,116.44 400.67,116.22 403.64,115.99 406.61,115.77 409.59,115.54 412.56,115.32 415.53,115.09 418.51,114.87 421.48,114.64 424.45,114.42 427.43,114.19 430.4,113.97 433.37,113.74 436.35,113.52 439.32,113.29 442.29,113.07 445.27,112.84 448.24,112.62 451.21,112.4 454.19,112.17 457.16,111.95 460.13,111.72 463.11,111.5 466.08,111.27 469.05,111.05 472.03,110.82 475,110.6 477.97,110.37 480.95,110.15 483.92,109.92 486.89,109.7 489.87,109.47 492.84,109.25 495.81,109.02" fill="none" stroke="#f07a7a" stroke-width="1.25" stroke-dasharray="1.8,1.1" stroke-linejoin="round"/>
<g fill="#e05a5a"><circle cx="367.96" cy="118.69" r="0.55"/><circle cx="373.91" cy="118.24" r="0.55"/><circle cx="379.85" cy="117.79" r="0.55"/><circle cx="385.8" cy="117.34" r="0.55"/><circle cx="391.75" cy="116.89" r="0.55"/><circle cx="397.69" cy="116.44" r="0.55"/><circle cx="403.64" cy="115.99" r="0.55"/><circle cx="409.59" cy="115.54" r="0.55"/><circle cx="415.53" cy="115.09" r="0.55"/><circle cx="421.48" cy="114.64" r="0.55"/><circle cx="427.43" cy="114.19" r="0.55"/><circle cx="433.37" cy="113.74" r="0.55"/><circle cx="439.32" cy="113.29" r="0.55"/><circle cx="445.27" cy="112.84" r="0.55"/><circle cx="451.21" cy="112.4" r="0.55"/><circle cx="457.16" cy="111.95" r="0.55"/><circle cx="463.11" cy="111.5" r="0.55"/><circle cx="469.05" cy="111.05" r="0.55"/><circle cx="475" cy="110.6" r="0.55"/><circle cx="480.95" cy="110.15" r="0.55"/><circle cx="486.89" cy="109.7" r="0.55"/><circle cx="492.84" cy="109.25" r="0.55"/></g>
<polyline points="364.69,113.28 366.47,119.1 367.96,119.73 370.93,119.68 373.91,119.62 376.88,119.57 379.85,119.52 382.83,119.47 385.8,119.41 388.77,119.36 391.75,119.31 394.72,119.25 397.69,119.2 400.67,119.15 403.64,119.1 406.61,119.04 409.59,118.99 412.56,118.94 415.53,118.89 418.51,118.83 421.48,118.78 424.45,118.73 427.43,118.68 430.4,118.62 433.37,118.57 436.35,118.52 439.32,118.47 442.29,118.41 445.27,118.36 448.24,118.31 451.21,118.26 454.19,118.2 457.16,118.15 460.13,118.1 463.11,118.04 466.08,117.99 469.05,117.94 472.03,117.89 475,117.83 477.97,117.78 480.95,117.73 483.92,117.68 486.89,117.62 489.87,117.57 492.84,117.52 495.81,117.47" fill="none" stroke="#7ce67c" stroke-width="1.25" stroke-dasharray="1.8,1.1" stroke-linejoin="round"/>
<g fill="#4cc84c"><circle cx="367.96" cy="119.73" r="0.55"/><circle cx="373.91" cy="119.62" r="0.55"/><circle cx="379.85" cy="119.52" r="0.55"/><circle cx="385.8" cy="119.41" r="0.55"/><circle cx="391.75" cy="119.31" r="0.55"/><circle cx="397.69" cy="119.2" r="0.55"/><circle cx="403.64" cy="119.1" r="0.55"/><circle cx="409.59" cy="118.99" r="0.55"/><circle cx="415.53" cy="118.89" r="0.55"/><circle cx="421.48" cy="118.78" r="0.55"/><circle cx="427.43" cy="118.68" r="0.55"/><circle cx="433.37" cy="118.57" r="0.55"/><circle cx="439.32" cy="118.47" r="0.55"/><circle cx="445.27" cy="118.36" r="0.55"/><circle cx="451.21" cy="118.26" r="0.55"/><circle cx="457.16" cy="118.15" r="0.55"/><circle cx="463.11" cy="118.04" r="0.55"/><circle cx="469.05" cy="117.94" r="0.55"/><circle cx="475" cy="117.83" r="0.55"/><circle cx="480.95" cy="117.73" r="0.55"/><circle cx="486.89" cy="117.62" r="0.55"/><circle cx="492.84" cy="117.52" r="0.55"/></g>
<polyline points="364.69,113.28 366.47,120.14 367.96,120.77 370.93,120.77 373.91,120.78 376.88,120.78 379.85,120.79 382.83,120.79 385.8,120.8 388.77,120.8 391.75,120.81 394.72,120.81 397.69,120.82 400.67,120.82 403.64,120.83 406.61,120.83 409.59,120.83 412.56,120.84 415.53,120.84 418.51,120.85 421.48,120.85 424.45,120.86 427.43,120.86 430.4,120.87 433.37,120.87 436.35,120.88 439.32,120.88 442.29,120.89 445.27,120.89 448.24,120.9 451.21,120.9 454.19,120.91 457.16,120.91 460.13,120.92 463.11,120.92 466.08,120.93 469.05,120.93 472.03,120.94 475,120.94 477.97,120.94 480.95,120.95 483.92,120.95 486.89,120.96 489.87,120.96 492.84,120.97 495.81,120.97" fill="none" stroke="#7f7fe6" stroke-width="1.25" stroke-dasharray="1.8,1.1" stroke-linejoin="round"/>
<g fill="#5a5ad0"><circle cx="367.96" cy="120.77" r="0.55"/><circle cx="373.91" cy="120.78" r="0.55"/><circle cx="379.85" cy="120.79" r="0.55"/><circle cx="385.8" cy="120.8" r="0.55"/><circle cx="391.75" cy="120.81" r="0.55"/><circle cx="397.69" cy="120.82" r="0.55"/><circle cx="403.64" cy="120.83" r="0.55"/><circle cx="409.59" cy="120.83" r="0.55"/><circle cx="415.53" cy="120.84" r="0.55"/><circle cx="421.48" cy="120.85" r="0.55"/><circle cx="427.43" cy="120.86" r="0.55"/><circle cx="433.37" cy="120.87" r="0.55"/><circle cx="439.32" cy="120.88" r="0.55"/><circle cx="445.27" cy="120.89" r="0.55"/><circle cx="451.21" cy="120.9" r="0.55"/><circle cx="457.16" cy="120.91" r="0.55"/><circle cx="463.11" cy="120.92" r="0.55"/><circle cx="469.05" cy="120.93" r="0.55"/><circle cx="475" cy="120.94" r="0.55"/><circle cx="480.95" cy="120.95" r="0.55"/><circle cx="486.89" cy="120.96" r="0.55"/><circle cx="492.84" cy="120.97" r="0.55"/></g>
<polyline points="366.5,31.95 368,28.83 369.45,28.83 372.42,28.83 375.39,28.83 378.37,28.83 381.34,28.85 384.31,28.89 387.29,28.93 390.26,28.97 393.23,29.02 396.21,29.06 399.18,29.1 402.15,29.14 405.13,29.18 408.1,29.22 411.07,29.26 414.05,29.3 417.02,29.34 419.99,29.39 422.97,29.43 425.94,29.47 428.91,29.51 431.89,29.55 434.86,29.59 437.83,29.63 440.81,29.69 443.78,29.8 446.75,29.91 449.73,30.02 452.7,30.12 455.67,30.23 458.65,30.34 461.62,30.45 464.59,30.56 467.57,30.66 470.54,30.77 473.51,30.88 476.49,30.99 479.46,31.1 482.43,31.2 485.41,31.31 488.38,31.42 491.35,31.53 494.33,31.64 497.3,31.74" fill="none" stroke="#111" stroke-width="1.0" stroke-linejoin="round"/>
<g fill="#111"><circle cx="368" cy="28.83" r="0.95"/><circle cx="369.45" cy="28.83" r="0.95"/><circle cx="372.42" cy="28.83" r="0.95"/><circle cx="375.39" cy="28.83" r="0.95"/><circle cx="378.37" cy="28.83" r="0.95"/><circle cx="381.34" cy="28.85" r="0.95"/><circle cx="384.31" cy="28.89" r="0.95"/><circle cx="387.29" cy="28.93" r="0.95"/><circle cx="390.26" cy="28.97" r="0.95"/><circle cx="393.23" cy="29.02" r="0.95"/><circle cx="396.21" cy="29.06" r="0.95"/><circle cx="399.18" cy="29.1" r="0.95"/><circle cx="402.15" cy="29.14" r="0.95"/><circle cx="405.13" cy="29.18" r="0.95"/><circle cx="408.1" cy="29.22" r="0.95"/><circle cx="411.07" cy="29.26" r="0.95"/><circle cx="414.05" cy="29.3" r="0.95"/><circle cx="417.02" cy="29.34" r="0.95"/><circle cx="419.99" cy="29.39" r="0.95"/><circle cx="422.97" cy="29.43" r="0.95"/><circle cx="425.94" cy="29.47" r="0.95"/><circle cx="428.91" cy="29.51" r="0.95"/><circle cx="431.89" cy="29.55" r="0.95"/><circle cx="434.86" cy="29.59" r="0.95"/><circle cx="437.83" cy="29.63" r="0.95"/><circle cx="440.81" cy="29.69" r="0.95"/><circle cx="443.78" cy="29.8" r="0.95"/><circle cx="446.75" cy="29.91" r="0.95"/><circle cx="449.73" cy="30.02" r="0.95"/><circle cx="452.7" cy="30.12" r="0.95"/><circle cx="455.67" cy="30.23" r="0.95"/><circle cx="458.65" cy="30.34" r="0.95"/><circle cx="461.62" cy="30.45" r="0.95"/><circle cx="464.59" cy="30.56" r="0.95"/><circle cx="467.57" cy="30.66" r="0.95"/><circle cx="470.54" cy="30.77" r="0.95"/><circle cx="473.51" cy="30.88" r="0.95"/><circle cx="476.49" cy="30.99" r="0.95"/><circle cx="479.46" cy="31.1" r="0.95"/><circle cx="482.43" cy="31.2" r="0.95"/><circle cx="485.41" cy="31.31" r="0.95"/><circle cx="488.38" cy="31.42" r="0.95"/><circle cx="491.35" cy="31.53" r="0.95"/><circle cx="494.33" cy="31.64" r="0.95"/><circle cx="497.3" cy="31.74" r="0.95"/></g>
<polyline points="366.5,30.29 368,27.17 369.45,27.28 372.42,27.42 375.39,27.57 378.37,27.71 381.34,27.87 384.31,28.03 387.29,28.2 390.26,28.36 393.23,28.53 396.21,28.69 399.18,28.85 402.15,29.02 405.13,29.18 408.1,29.35 411.07,29.51 414.05,29.68 417.02,29.84 419.99,30.01 422.97,30.17 425.94,30.34 428.91,30.5 431.89,30.67 434.86,30.83 437.83,31 440.81,31.19 443.78,31.46 446.75,31.73 449.73,32 452.7,32.27 455.67,32.54 458.65,32.81 461.62,33.08 464.59,33.35 467.57,33.62 470.54,33.89 473.51,34.16 476.49,34.43 479.46,34.7 482.43,34.97 485.41,35.24 488.38,35.51 491.35,35.78 494.33,36.05 497.3,36.32" fill="none" stroke="#e3171d" stroke-width="1.0" stroke-linejoin="round"/>
<g fill="#e3171d"><circle cx="368" cy="27.17" r="0.95"/><circle cx="369.45" cy="27.28" r="0.95"/><circle cx="372.42" cy="27.42" r="0.95"/><circle cx="375.39" cy="27.57" r="0.95"/><circle cx="378.37" cy="27.71" r="0.95"/><circle cx="381.34" cy="27.87" r="0.95"/><circle cx="384.31" cy="28.03" r="0.95"/><circle cx="387.29" cy="28.2" r="0.95"/><circle cx="390.26" cy="28.36" r="0.95"/><circle cx="393.23" cy="28.53" r="0.95"/><circle cx="396.21" cy="28.69" r="0.95"/><circle cx="399.18" cy="28.85" r="0.95"/><circle cx="402.15" cy="29.02" r="0.95"/><circle cx="405.13" cy="29.18" r="0.95"/><circle cx="408.1" cy="29.35" r="0.95"/><circle cx="411.07" cy="29.51" r="0.95"/><circle cx="414.05" cy="29.68" r="0.95"/><circle cx="417.02" cy="29.84" r="0.95"/><circle cx="419.99" cy="30.01" r="0.95"/><circle cx="422.97" cy="30.17" r="0.95"/><circle cx="425.94" cy="30.34" r="0.95"/><circle cx="428.91" cy="30.5" r="0.95"/><circle cx="431.89" cy="30.67" r="0.95"/><circle cx="434.86" cy="30.83" r="0.95"/><circle cx="437.83" cy="31" r="0.95"/><circle cx="440.81" cy="31.19" r="0.95"/><circle cx="443.78" cy="31.46" r="0.95"/><circle cx="446.75" cy="31.73" r="0.95"/><circle cx="449.73" cy="32" r="0.95"/><circle cx="452.7" cy="32.27" r="0.95"/><circle cx="455.67" cy="32.54" r="0.95"/><circle cx="458.65" cy="32.81" r="0.95"/><circle cx="461.62" cy="33.08" r="0.95"/><circle cx="464.59" cy="33.35" r="0.95"/><circle cx="467.57" cy="33.62" r="0.95"/><circle cx="470.54" cy="33.89" r="0.95"/><circle cx="473.51" cy="34.16" r="0.95"/><circle cx="476.49" cy="34.43" r="0.95"/><circle cx="479.46" cy="34.7" r="0.95"/><circle cx="482.43" cy="34.97" r="0.95"/><circle cx="485.41" cy="35.24" r="0.95"/><circle cx="488.38" cy="35.51" r="0.95"/><circle cx="491.35" cy="35.78" r="0.95"/><circle cx="494.33" cy="36.05" r="0.95"/><circle cx="497.3" cy="36.32" r="0.95"/></g>
<polyline points="366.5,28.21 368,25.09 369.45,25.05 372.42,25 375.39,24.95 378.37,24.91 381.34,24.86 384.31,24.83 387.29,24.79 390.26,24.76 393.23,24.72 396.21,24.68 399.18,24.65 402.15,24.61 405.13,24.58 408.1,24.54 411.07,24.5 414.05,24.47 417.02,24.43 419.99,24.4 422.97,24.36 425.94,24.32 428.91,24.29 431.89,24.25 434.86,24.22 437.83,24.18 440.81,24.15 443.78,24.12 446.75,24.1 449.73,24.08 452.7,24.06 455.67,24.04 458.65,24.02 461.62,24 464.59,23.97 467.57,23.95 470.54,23.93 473.51,23.91 476.49,23.89 479.46,23.87 482.43,23.84 485.41,23.82 488.38,23.8 491.35,23.78 494.33,23.76 497.3,23.74" fill="none" stroke="#1c1ccc" stroke-width="1.0" stroke-linejoin="round"/>
<g fill="#1c1ccc"><circle cx="368" cy="25.09" r="0.95"/><circle cx="369.45" cy="25.05" r="0.95"/><circle cx="372.42" cy="25" r="0.95"/><circle cx="375.39" cy="24.95" r="0.95"/><circle cx="378.37" cy="24.91" r="0.95"/><circle cx="381.34" cy="24.86" r="0.95"/><circle cx="384.31" cy="24.83" r="0.95"/><circle cx="387.29" cy="24.79" r="0.95"/><circle cx="390.26" cy="24.76" r="0.95"/><circle cx="393.23" cy="24.72" r="0.95"/><circle cx="396.21" cy="24.68" r="0.95"/><circle cx="399.18" cy="24.65" r="0.95"/><circle cx="402.15" cy="24.61" r="0.95"/><circle cx="405.13" cy="24.58" r="0.95"/><circle cx="408.1" cy="24.54" r="0.95"/><circle cx="411.07" cy="24.5" r="0.95"/><circle cx="414.05" cy="24.47" r="0.95"/><circle cx="417.02" cy="24.43" r="0.95"/><circle cx="419.99" cy="24.4" r="0.95"/><circle cx="422.97" cy="24.36" r="0.95"/><circle cx="425.94" cy="24.32" r="0.95"/><circle cx="428.91" cy="24.29" r="0.95"/><circle cx="431.89" cy="24.25" r="0.95"/><circle cx="434.86" cy="24.22" r="0.95"/><circle cx="437.83" cy="24.18" r="0.95"/><circle cx="440.81" cy="24.15" r="0.95"/><circle cx="443.78" cy="24.12" r="0.95"/><circle cx="446.75" cy="24.1" r="0.95"/><circle cx="449.73" cy="24.08" r="0.95"/><circle cx="452.7" cy="24.06" r="0.95"/><circle cx="455.67" cy="24.04" r="0.95"/><circle cx="458.65" cy="24.02" r="0.95"/><circle cx="461.62" cy="24" r="0.95"/><circle cx="464.59" cy="23.97" r="0.95"/><circle cx="467.57" cy="23.95" r="0.95"/><circle cx="470.54" cy="23.93" r="0.95"/><circle cx="473.51" cy="23.91" r="0.95"/><circle cx="476.49" cy="23.89" r="0.95"/><circle cx="479.46" cy="23.87" r="0.95"/><circle cx="482.43" cy="23.84" r="0.95"/><circle cx="485.41" cy="23.82" r="0.95"/><circle cx="488.38" cy="23.8" r="0.95"/><circle cx="491.35" cy="23.78" r="0.95"/><circle cx="494.33" cy="23.76" r="0.95"/><circle cx="497.3" cy="23.74" r="0.95"/></g>
<polyline points="364.6,116.5 364.6,40 365.2,30 366,26.8 367.4,24.98 369.45,24.97 372.42,24.94 375.39,24.92 378.37,24.89 381.34,24.9 384.31,24.94 387.29,24.98 390.26,25.02 393.23,25.06 396.21,25.1 399.18,25.15 402.15,25.19 405.13,25.23 408.1,25.27 411.07,25.31 414.05,25.35 417.02,25.39 419.99,25.43 422.97,25.48 425.94,25.52 428.91,25.56 431.89,25.6 434.86,25.64 437.83,25.68 440.81,25.72 443.78,25.77 446.75,25.81 449.73,25.85 452.7,25.9 455.67,25.94 458.65,25.98 461.62,26.03 464.59,26.07 467.57,26.11 470.54,26.16 473.51,26.2 476.49,26.24 479.46,26.28 482.43,26.33 485.41,26.37 488.38,26.41 491.35,26.46 494.33,26.5 497.3,26.54" fill="none" stroke="#2fd82f" stroke-width="1.0" stroke-linejoin="round"/>
<g fill="#2fd82f"><circle cx="367.4" cy="24.98" r="0.95"/><circle cx="369.45" cy="24.97" r="0.95"/><circle cx="372.42" cy="24.94" r="0.95"/><circle cx="375.39" cy="24.92" r="0.95"/><circle cx="378.37" cy="24.89" r="0.95"/><circle cx="381.34" cy="24.9" r="0.95"/><circle cx="384.31" cy="24.94" r="0.95"/><circle cx="387.29" cy="24.98" r="0.95"/><circle cx="390.26" cy="25.02" r="0.95"/><circle cx="393.23" cy="25.06" r="0.95"/><circle cx="396.21" cy="25.1" r="0.95"/><circle cx="399.18" cy="25.15" r="0.95"/><circle cx="402.15" cy="25.19" r="0.95"/><circle cx="405.13" cy="25.23" r="0.95"/><circle cx="408.1" cy="25.27" r="0.95"/><circle cx="411.07" cy="25.31" r="0.95"/><circle cx="414.05" cy="25.35" r="0.95"/><circle cx="417.02" cy="25.39" r="0.95"/><circle cx="419.99" cy="25.43" r="0.95"/><circle cx="422.97" cy="25.48" r="0.95"/><circle cx="425.94" cy="25.52" r="0.95"/><circle cx="428.91" cy="25.56" r="0.95"/><circle cx="431.89" cy="25.6" r="0.95"/><circle cx="434.86" cy="25.64" r="0.95"/><circle cx="437.83" cy="25.68" r="0.95"/><circle cx="440.81" cy="25.72" r="0.95"/><circle cx="443.78" cy="25.77" r="0.95"/><circle cx="446.75" cy="25.81" r="0.95"/><circle cx="449.73" cy="25.85" r="0.95"/><circle cx="452.7" cy="25.9" r="0.95"/><circle cx="455.67" cy="25.94" r="0.95"/><circle cx="458.65" cy="25.98" r="0.95"/><circle cx="461.62" cy="26.03" r="0.95"/><circle cx="464.59" cy="26.07" r="0.95"/><circle cx="467.57" cy="26.11" r="0.95"/><circle cx="470.54" cy="26.16" r="0.95"/><circle cx="473.51" cy="26.2" r="0.95"/><circle cx="476.49" cy="26.24" r="0.95"/><circle cx="479.46" cy="26.28" r="0.95"/><circle cx="482.43" cy="26.33" r="0.95"/><circle cx="485.41" cy="26.37" r="0.95"/><circle cx="488.38" cy="26.41" r="0.95"/><circle cx="491.35" cy="26.46" r="0.95"/><circle cx="494.33" cy="26.5" r="0.95"/><circle cx="497.3" cy="26.54" r="0.95"/></g>
<rect x="363.4" y="17.3" width="133.3" height="105.9" fill="none" stroke="#505050" stroke-width="0.9"/>
<line x1="496.7" y1="17.3" x2="496.7" y2="123.2" stroke="#d44a4a" stroke-width="0.9"/>
<path d="M363.5 123.2v-1.6M363.5 17.3v1.6M393.23 123.2v-1.6M393.23 17.3v1.6M422.97 123.2v-1.6M422.97 17.3v1.6M452.7 123.2v-1.6M452.7 17.3v1.6M482.43 123.2v-1.6M482.43 17.3v1.6M378.37 123.2v-0.96M378.37 17.3v0.96M408.1 123.2v-0.96M408.1 17.3v0.96M437.83 123.2v-0.96M437.83 17.3v0.96M467.57 123.2v-0.96M467.57 17.3v0.96M497.3 123.2v-0.96M497.3 17.3v0.96" stroke="#505050" stroke-width="0.7" fill="none"/>
<path d="M363.4 121.6h1.6M363.4 111.2h1.6M363.4 100.8h1.6M363.4 90.4h1.6M363.4 80h1.6M363.4 69.6h1.6M363.4 59.2h1.6M363.4 48.8h1.6M363.4 38.4h1.6M363.4 28h1.6M363.4 17.6h1.6" stroke="#505050" stroke-width="0.7" fill="none"/>
<path d="M496.7 121.6h-1.6M496.7 111.2h-1.6M496.7 100.8h-1.6M496.7 90.4h-1.6M496.7 80h-1.6M496.7 69.6h-1.6M496.7 59.2h-1.6M496.7 48.8h-1.6M496.7 38.4h-1.6M496.7 28h-1.6M496.7 17.6h-1.6" stroke="#d44a4a" stroke-width="0.7" fill="none"/>
<text x="363.5" y="130.8" font-size="5.9" text-anchor="middle" fill="#2a2a2a" stroke="#2a2a2a" stroke-width="0.22">0</text>
<text x="393.23" y="130.8" font-size="5.9" text-anchor="middle" fill="#2a2a2a" stroke="#2a2a2a" stroke-width="0.22">200</text>
<text x="422.97" y="130.8" font-size="5.9" text-anchor="middle" fill="#2a2a2a" stroke="#2a2a2a" stroke-width="0.22">400</text>
<text x="452.7" y="130.8" font-size="5.9" text-anchor="middle" fill="#2a2a2a" stroke="#2a2a2a" stroke-width="0.22">600</text>
<text x="482.43" y="130.8" font-size="5.9" text-anchor="middle" fill="#2a2a2a" stroke="#2a2a2a" stroke-width="0.22">800</text>
<text x="361.3" y="123.7" font-size="5.9" text-anchor="end" fill="#2a2a2a" stroke="#2a2a2a" stroke-width="0.22">-25</text>
<text x="499.2" y="123.7" font-size="5.9" text-anchor="start" fill="#dc4646" stroke="#dc4646" stroke-width="0.22">-25</text>
<text x="361.3" y="113.3" font-size="5.9" text-anchor="end" fill="#2a2a2a" stroke="#2a2a2a" stroke-width="0.22">-20</text>
<text x="499.2" y="113.3" font-size="5.9" text-anchor="start" fill="#dc4646" stroke="#dc4646" stroke-width="0.22">-20</text>
<text x="361.3" y="102.9" font-size="5.9" text-anchor="end" fill="#2a2a2a" stroke="#2a2a2a" stroke-width="0.22">-15</text>
<text x="499.2" y="102.9" font-size="5.9" text-anchor="start" fill="#dc4646" stroke="#dc4646" stroke-width="0.22">-15</text>
<text x="361.3" y="92.5" font-size="5.9" text-anchor="end" fill="#2a2a2a" stroke="#2a2a2a" stroke-width="0.22">-10</text>
<text x="499.2" y="92.5" font-size="5.9" text-anchor="start" fill="#dc4646" stroke="#dc4646" stroke-width="0.22">-10</text>
<text x="361.3" y="82.1" font-size="5.9" text-anchor="end" fill="#2a2a2a" stroke="#2a2a2a" stroke-width="0.22">-5</text>
<text x="499.2" y="82.1" font-size="5.9" text-anchor="start" fill="#dc4646" stroke="#dc4646" stroke-width="0.22">-5</text>
<text x="361.3" y="71.7" font-size="5.9" text-anchor="end" fill="#2a2a2a" stroke="#2a2a2a" stroke-width="0.22">0</text>
<text x="499.2" y="71.7" font-size="5.9" text-anchor="start" fill="#dc4646" stroke="#dc4646" stroke-width="0.22">0</text>
<text x="361.3" y="61.3" font-size="5.9" text-anchor="end" fill="#2a2a2a" stroke="#2a2a2a" stroke-width="0.22">5</text>
<text x="499.2" y="61.3" font-size="5.9" text-anchor="start" fill="#dc4646" stroke="#dc4646" stroke-width="0.22">5</text>
<text x="361.3" y="50.9" font-size="5.9" text-anchor="end" fill="#2a2a2a" stroke="#2a2a2a" stroke-width="0.22">10</text>
<text x="499.2" y="50.9" font-size="5.9" text-anchor="start" fill="#dc4646" stroke="#dc4646" stroke-width="0.22">10</text>
<text x="361.3" y="40.5" font-size="5.9" text-anchor="end" fill="#2a2a2a" stroke="#2a2a2a" stroke-width="0.22">15</text>
<text x="499.2" y="40.5" font-size="5.9" text-anchor="start" fill="#dc4646" stroke="#dc4646" stroke-width="0.22">15</text>
<text x="361.3" y="30.1" font-size="5.9" text-anchor="end" fill="#2a2a2a" stroke="#2a2a2a" stroke-width="0.22">20</text>
<text x="499.2" y="30.1" font-size="5.9" text-anchor="start" fill="#dc4646" stroke="#dc4646" stroke-width="0.22">20</text>
<text x="361.3" y="19.7" font-size="5.9" text-anchor="end" fill="#2a2a2a" stroke="#2a2a2a" stroke-width="0.22">25</text>
<text x="499.2" y="19.7" font-size="5.9" text-anchor="start" fill="#dc4646" stroke="#dc4646" stroke-width="0.22">25</text>
<text x="433.1" y="141.2" font-size="7.7" text-anchor="middle" fill="#2a2a2a" stroke="#2a2a2a" stroke-width="0.22">Time (s)</text>
<text transform="translate(352.2 72.3) rotate(-90)" font-size="7.9" text-anchor="middle" fill="#2a2a2a" stroke="#2a2a2a" stroke-width="0.22"><tspan font-style="italic">PCE</tspan> (%)</text>
<text transform="translate(516.2 66.6) rotate(-90)" font-size="7.6" text-anchor="middle" fill="#dc4646" stroke="#dc4646" stroke-width="0.22">Current density (mA/cm<tspan font-size="4.6" dy="-2.9">2</tspan><tspan dy="2.9">)</tspan></text>
<text x="382.9" y="54.6" font-size="6.2" text-anchor="start" fill="#2a2a2a" stroke="#2a2a2a" stroke-width="0.22" font-style="italic">PCE</text>
<text x="402.1" y="54.6" font-size="6.2" text-anchor="start" fill="#2a2a2a" stroke="#2a2a2a" stroke-width="0.22" font-style="italic">J<tspan font-size="3.8" dy="1.4">sc</tspan></text>
<polyline points="381,60.8 394.4,60.8" fill="none" stroke="#111" stroke-width="0.8" stroke-linejoin="round"/>
<g fill="#111"><circle cx="387.7" cy="60.8" r="1.1"/></g>
<polyline points="397.7,60.8 411.7,60.8" fill="none" stroke="#8c8c8c" stroke-width="1.0" stroke-dasharray="6.2,1.6" stroke-linejoin="round"/>
<g fill="#555"><circle cx="404.7" cy="60.8" r="0.55"/></g>
<text x="412.7" y="62.9" font-size="5.9" text-anchor="start" fill="#2a2a2a" stroke="#2a2a2a" stroke-width="0.22">control</text>
<text x="435.8" y="62.9" font-size="5.9" text-anchor="start" fill="#2a2a2a" stroke="#2a2a2a" stroke-width="0.22">@0.83V</text>
<polyline points="381,68.3 394.4,68.3" fill="none" stroke="#e3171d" stroke-width="0.8" stroke-linejoin="round"/>
<g fill="#e3171d"><circle cx="387.7" cy="68.3" r="1.1"/></g>
<polyline points="397.7,68.3 411.7,68.3" fill="none" stroke="#f07a7a" stroke-width="1.0" stroke-dasharray="6.2,1.6" stroke-linejoin="round"/>
<g fill="#e05a5a"><circle cx="404.7" cy="68.3" r="0.55"/></g>
<text x="412.7" y="70.4" font-size="5.9" text-anchor="start" fill="#2a2a2a" stroke="#2a2a2a" stroke-width="0.22">SIO-2</text>
<text x="435.8" y="70.4" font-size="5.9" text-anchor="start" fill="#2a2a2a" stroke="#2a2a2a" stroke-width="0.22">@0.85V</text>
<polyline points="381,75.8 394.4,75.8" fill="none" stroke="#1c1ccc" stroke-width="0.8" stroke-linejoin="round"/>
<g fill="#1c1ccc"><circle cx="387.7" cy="75.8" r="1.1"/></g>
<polyline points="397.7,75.8 411.7,75.8" fill="none" stroke="#7f7fe6" stroke-width="1.0" stroke-dasharray="6.2,1.6" stroke-linejoin="round"/>
<g fill="#5a5ad0"><circle cx="404.7" cy="75.8" r="0.55"/></g>
<text x="412.7" y="77.9" font-size="5.9" text-anchor="start" fill="#2a2a2a" stroke="#2a2a2a" stroke-width="0.22">SIO-5</text>
<text x="435.8" y="77.9" font-size="5.9" text-anchor="start" fill="#2a2a2a" stroke="#2a2a2a" stroke-width="0.22">@0.90V</text>
<polyline points="381,83.3 394.4,83.3" fill="none" stroke="#2fd82f" stroke-width="0.8" stroke-linejoin="round"/>
<g fill="#2fd82f"><circle cx="387.7" cy="83.3" r="1.1"/></g>
<polyline points="397.7,83.3 411.7,83.3" fill="none" stroke="#7ce67c" stroke-width="1.0" stroke-dasharray="6.2,1.6" stroke-linejoin="round"/>
<g fill="#4cc84c"><circle cx="404.7" cy="83.3" r="0.55"/></g>
<text x="412.7" y="85.4" font-size="5.9" text-anchor="start" fill="#2a2a2a" stroke="#2a2a2a" stroke-width="0.22">SIO-8</text>
<text x="435.8" y="85.4" font-size="5.9" text-anchor="start" fill="#2a2a2a" stroke="#2a2a2a" stroke-width="0.22">@0.89V</text>
<ellipse cx="445.7" cy="28" rx="4.2" ry="9.3" fill="none" stroke="#222" stroke-width="0.7"/>
<path d="M449.3 35.8 Q448 37.8 445 37.8 L434.5 37.8" fill="none" stroke="#222" stroke-width="0.7"/>
<path d="M432.3 37.8 l3.2 -1.4 l0 2.8z" fill="#222"/>
<ellipse cx="418.4" cy="116.1" rx="3.7" ry="6.1" fill="none" stroke="#e03030" stroke-width="0.7"/>
<path d="M420 110.4 Q420.5 109.2 422.5 109.2 L429 109.2" fill="none" stroke="#e03030" stroke-width="0.7"/>
<path d="M431.3 109.2 l-3.2 -1.4 l0 2.8z" fill="#e03030"/>
<text x="0.1" y="148.6" font-size="10" text-anchor="start" fill="#2a2a2a" stroke="#2a2a2a" stroke-width="0.22">(d)</text>
<polyline points="35,155.1 35.31,155.61 35.72,156.35 36.24,157.2 36.87,158.02 37.6,158.7 38.43,159.21 39.35,159.64 40.39,160.02 41.57,160.39 42.9,160.8 44.45,161.24 46.2,161.69 48.07,162.14 49.96,162.61 51.8,163.1 53.58,163.62 55.36,164.16 57.14,164.71 58.92,165.26 60.7,165.8 62.48,166.32 64.26,166.84 66.05,167.36 67.83,167.88 69.6,168.4 71.36,168.9 73.12,169.39 74.88,169.89 76.64,170.44 78.4,171.1 80.26,171.9 82.21,172.82 84.12,173.79 85.86,174.74 87.3,175.6 88.37,176.35 89.16,177.02 89.78,177.68 90.32,178.35 90.9,179.1 91.51,179.92 92.09,180.79 92.64,181.69 93.14,182.63 93.6,183.6 94.01,184.55 94.38,185.48 94.71,186.47 95.01,187.58 95.3,188.9 95.57,190.4 95.81,192.03 96.02,193.82 96.22,195.81 96.4,198 96.56,200.49 96.69,203.25 96.81,206.16 96.91,209.12 97,212 97.08,215.22 97.14,218.85 97.19,222.27 97.24,224.86 97.3,226 97.37,225.31 97.45,223.22 97.53,220.26 97.61,217.01 97.7,214 97.79,211.11 97.88,207.98 97.98,204.79 98.09,201.73 98.2,199 98.3,196.65 98.37,194.55 98.47,192.62 98.63,190.76 98.9,188.9 99.27,186.99 99.71,185.08 100.24,183.24 100.86,181.53 101.6,180 102.44,178.73 103.36,177.67 104.4,176.49 105.57,175.84 106.9,175.13 108.45,173.6 110.2,172.1 112.07,170.59 113.96,169.17 115.8,168.85 117.58,167.78 119.36,166.66 121.14,166.38 122.92,165.86 124.7,165.27 126.48,163.74 128.26,162.68 130.05,161.44 131.83,160.69 133.6,159.98 135.44,158.86 137.33,157.37 139.19,156.7 140.92,155.68 142.4,155.19 143.61,155.13 144.6,154.63 145.44,154.67 146.19,154.71 146.9,155.03 147.55,155.77 148.12,155.76 148.61,156.72 149.06,157.08 149.5,157.31 149.88,157.42 150.19,157.83 150.49,157.74 150.84,157.41 151.3,157.25 151.87,156.69 152.52,155.75 153.24,155.08 154.03,154.78 154.9,154.3 155.97,154.01 157.23,153.69 158.5,153.22 159.62,153.06 160.4,152.56" fill="none" stroke="#111" stroke-width="1.15" stroke-linejoin="round"/>
<g fill="#111"><circle cx="35" cy="155.1" r="1.0"/><circle cx="36.24" cy="157.2" r="1.0"/><circle cx="38.43" cy="159.21" r="1.0"/><circle cx="41.57" cy="160.39" r="1.0"/><circle cx="44.45" cy="161.24" r="1.0"/><circle cx="48.07" cy="162.14" r="1.0"/><circle cx="51.8" cy="163.1" r="1.0"/><circle cx="55.36" cy="164.16" r="1.0"/><circle cx="58.92" cy="165.26" r="1.0"/><circle cx="62.48" cy="166.32" r="1.0"/><circle cx="66.05" cy="167.36" r="1.0"/><circle cx="69.6" cy="168.4" r="1.0"/><circle cx="73.12" cy="169.39" r="1.0"/><circle cx="76.64" cy="170.44" r="1.0"/><circle cx="80.26" cy="171.9" r="1.0"/><circle cx="84.12" cy="173.79" r="1.0"/><circle cx="87.3" cy="175.6" r="1.0"/><circle cx="89.16" cy="177.02" r="1.0"/><circle cx="90.9" cy="179.1" r="1.0"/><circle cx="92.64" cy="181.69" r="1.0"/><circle cx="94.01" cy="184.55" r="1.0"/><circle cx="95.01" cy="187.58" r="1.0"/><circle cx="95.57" cy="190.4" r="1.0"/><circle cx="96.02" cy="193.82" r="1.0"/><circle cx="96.4" cy="198" r="1.0"/><circle cx="96.56" cy="200.49" r="1.0"/><circle cx="96.69" cy="203.25" r="1.0"/><circle cx="96.81" cy="206.16" r="1.0"/><circle cx="96.91" cy="209.12" r="1.0"/><circle cx="97" cy="212" r="1.0"/><circle cx="97.08" cy="215.22" r="1.0"/><circle cx="97.14" cy="218.85" r="1.0"/><circle cx="97.19" cy="222.27" r="1.0"/><circle cx="97.24" cy="224.86" r="1.0"/><circle cx="97.45" cy="223.22" r="1.0"/><circle cx="97.53" cy="220.26" r="1.0"/><circle cx="97.61" cy="217.01" r="1.0"/><circle cx="97.7" cy="214" r="1.0"/><circle cx="97.79" cy="211.11" r="1.0"/><circle cx="97.88" cy="207.98" r="1.0"/><circle cx="97.98" cy="204.79" r="1.0"/><circle cx="98.09" cy="201.73" r="1.0"/><circle cx="98.2" cy="199" r="1.0"/><circle cx="98.3" cy="196.65" r="1.0"/><circle cx="98.47" cy="192.62" r="1.0"/><circle cx="98.9" cy="188.9" r="1.0"/><circle cx="99.71" cy="185.08" r="1.0"/><circle cx="100.86" cy="181.53" r="1.0"/><circle cx="102.44" cy="178.73" r="1.0"/><circle cx="104.4" cy="176.49" r="1.0"/><circle cx="106.9" cy="175.13" r="1.0"/><circle cx="110.2" cy="172.1" r="1.0"/><circle cx="112.07" cy="170.59" r="1.0"/><circle cx="113.96" cy="169.17" r="1.0"/><circle cx="117.58" cy="167.78" r="1.0"/><circle cx="121.14" cy="166.38" r="1.0"/><circle cx="124.7" cy="165.27" r="1.0"/><circle cx="126.48" cy="163.74" r="1.0"/><circle cx="130.05" cy="161.44" r="1.0"/><circle cx="133.6" cy="159.98" r="1.0"/><circle cx="137.33" cy="157.37" r="1.0"/><circle cx="140.92" cy="155.68" r="1.0"/><circle cx="143.61" cy="155.13" r="1.0"/><circle cx="146.19" cy="154.71" r="1.0"/><circle cx="148.12" cy="155.76" r="1.0"/><circle cx="149.88" cy="157.42" r="1.0"/><circle cx="151.87" cy="156.69" r="1.0"/><circle cx="154.03" cy="154.78" r="1.0"/><circle cx="157.23" cy="153.69" r="1.0"/><circle cx="159.62" cy="153.06" r="1.0"/></g>
<polyline points="35,159.6 35.31,159.96 35.72,160.47 36.24,161.06 36.87,161.66 37.6,162.2 38.43,162.67 39.35,163.13 40.39,163.58 41.57,164 42.9,164.4 44.45,164.76 46.2,165.09 48.07,165.4 49.96,165.73 51.8,166.1 53.58,166.52 55.36,166.96 57.14,167.42 58.92,167.9 60.7,168.4 62.48,168.91 64.26,169.45 66.05,170 67.83,170.55 69.6,171.1 71.36,171.61 73.12,172.1 74.88,172.6 76.64,173.15 78.4,173.8 80.23,174.56 82.12,175.39 83.99,176.29 85.74,177.23 87.3,178.2 88.65,179.19 89.85,180.21 90.91,181.27 91.86,182.4 92.7,183.6 93.42,184.88 94.01,186.21 94.5,187.62 94.91,189.11 95.3,190.7 95.64,192.34 95.91,194.04 96.13,195.84 96.32,197.8 96.5,200 96.66,202.47 96.8,205.17 96.91,208.03 97.01,211 97.1,214 97.18,217.55 97.24,221.7 97.29,225.66 97.34,228.69 97.4,230 97.47,229.15 97.54,226.66 97.62,223.18 97.71,219.41 97.8,216 97.89,212.89 97.99,209.64 98.09,206.34 98.23,203.09 98.4,200 98.62,196.96 98.86,193.91 99.14,191 99.46,188.37 99.8,186.2 100.15,184.59 100.49,183.43 100.89,182.56 101.37,181.81 102,181 102.74,180.2 103.57,179.53 104.52,178.65 105.62,177.81 106.9,177.45 108.42,175.95 110.17,174.98 112.05,173.19 113.96,172.64 115.8,171.26 117.58,170.07 119.36,169.2 121.14,169.31 122.92,168.74 124.7,167.45 126.48,166.25 128.26,165.9 130.05,164.65 131.83,163.14 133.6,161.85 135.43,161.6 137.33,161.05 139.19,159.79 140.91,159.31 142.4,159.33 143.59,158.94 144.56,158.92 145.38,158.6 146.17,158.27 147,159.01 147.89,159.12 148.77,159.59 149.64,159.56 150.48,159.85 151.3,160.53 152.05,160.22 152.74,158.98 153.43,158.34 154.16,157.74 155,157.65 156.06,156.74 157.3,156.11 158.55,155.89 159.64,155.84 160.4,155.08" fill="none" stroke="#e3171d" stroke-width="1.15" stroke-linejoin="round"/>
<g fill="#e3171d"><circle cx="35" cy="159.6" r="1.0"/><circle cx="36.87" cy="161.66" r="1.0"/><circle cx="39.35" cy="163.13" r="1.0"/><circle cx="41.57" cy="164" r="1.0"/><circle cx="44.45" cy="164.76" r="1.0"/><circle cx="48.07" cy="165.4" r="1.0"/><circle cx="51.8" cy="166.1" r="1.0"/><circle cx="55.36" cy="166.96" r="1.0"/><circle cx="58.92" cy="167.9" r="1.0"/><circle cx="62.48" cy="168.91" r="1.0"/><circle cx="66.05" cy="170" r="1.0"/><circle cx="69.6" cy="171.1" r="1.0"/><circle cx="73.12" cy="172.1" r="1.0"/><circle cx="76.64" cy="173.15" r="1.0"/><circle cx="80.23" cy="174.56" r="1.0"/><circle cx="83.99" cy="176.29" r="1.0"/><circle cx="87.3" cy="178.2" r="1.0"/><circle cx="89.85" cy="180.21" r="1.0"/><circle cx="91.86" cy="182.4" r="1.0"/><circle cx="93.42" cy="184.88" r="1.0"/><circle cx="94.5" cy="187.62" r="1.0"/><circle cx="95.3" cy="190.7" r="1.0"/><circle cx="95.91" cy="194.04" r="1.0"/><circle cx="96.32" cy="197.8" r="1.0"/><circle cx="96.66" cy="202.47" r="1.0"/><circle cx="96.8" cy="205.17" r="1.0"/><circle cx="96.91" cy="208.03" r="1.0"/><circle cx="97.01" cy="211" r="1.0"/><circle cx="97.1" cy="214" r="1.0"/><circle cx="97.18" cy="217.55" r="1.0"/><circle cx="97.24" cy="221.7" r="1.0"/><circle cx="97.29" cy="225.66" r="1.0"/><circle cx="97.34" cy="228.69" r="1.0"/><circle cx="97.54" cy="226.66" r="1.0"/><circle cx="97.62" cy="223.18" r="1.0"/><circle cx="97.71" cy="219.41" r="1.0"/><circle cx="97.8" cy="216" r="1.0"/><circle cx="97.89" cy="212.89" r="1.0"/><circle cx="97.99" cy="209.64" r="1.0"/><circle cx="98.09" cy="206.34" r="1.0"/><circle cx="98.23" cy="203.09" r="1.0"/><circle cx="98.4" cy="200" r="1.0"/><circle cx="98.62" cy="196.96" r="1.0"/><circle cx="98.86" cy="193.91" r="1.0"/><circle cx="99.14" cy="191" r="1.0"/><circle cx="99.46" cy="188.37" r="1.0"/><circle cx="100.15" cy="184.59" r="1.0"/><circle cx="101.37" cy="181.81" r="1.0"/><circle cx="103.57" cy="179.53" r="1.0"/><circle cx="105.62" cy="177.81" r="1.0"/><circle cx="108.42" cy="175.95" r="1.0"/><circle cx="112.05" cy="173.19" r="1.0"/><circle cx="115.8" cy="171.26" r="1.0"/><circle cx="119.36" cy="169.2" r="1.0"/><circle cx="122.92" cy="168.74" r="1.0"/><circle cx="126.48" cy="166.25" r="1.0"/><circle cx="130.05" cy="164.65" r="1.0"/><circle cx="131.83" cy="163.14" r="1.0"/><circle cx="135.43" cy="161.6" r="1.0"/><circle cx="139.19" cy="159.79" r="1.0"/><circle cx="142.4" cy="159.33" r="1.0"/><circle cx="145.38" cy="158.6" r="1.0"/><circle cx="147.89" cy="159.12" r="1.0"/><circle cx="150.48" cy="159.85" r="1.0"/><circle cx="152.74" cy="158.98" r="1.0"/><circle cx="155" cy="157.65" r="1.0"/><circle cx="157.3" cy="156.11" r="1.0"/><circle cx="159.64" cy="155.84" r="1.0"/></g>
<polyline points="35,163.1 35.31,163.48 35.72,164.03 36.24,164.66 36.87,165.27 37.6,165.8 38.43,166.22 39.35,166.59 40.39,166.93 41.57,167.26 42.9,167.6 44.45,167.93 46.2,168.24 48.07,168.55 49.96,168.9 51.8,169.3 53.58,169.78 55.36,170.31 57.14,170.87 58.92,171.44 60.7,172 62.48,172.55 64.26,173.11 66.05,173.66 67.83,174.2 69.6,174.7 71.36,175.13 73.12,175.49 74.88,175.84 76.64,176.26 78.4,176.8 80.23,177.47 82.12,178.24 83.99,179.08 85.74,179.97 87.3,180.9 88.65,181.85 89.85,182.85 90.91,183.89 91.86,185.01 92.7,186.2 93.42,187.46 94.01,188.79 94.5,190.19 94.91,191.68 95.3,193.3 95.64,195.02 95.91,196.83 96.13,198.76 96.32,200.81 96.5,203 96.66,205.4 96.8,208.01 96.91,210.71 97.01,213.41 97.1,216 97.18,218.85 97.24,222.02 97.29,224.98 97.34,227.15 97.4,228 97.47,227.17 97.54,225.02 97.61,222.1 97.7,218.91 97.8,216 97.9,213.31 98,210.5 98.11,207.62 98.27,204.77 98.5,202 98.81,199.22 99.18,196.39 99.6,193.65 100.05,191.14 100.5,189 100.95,187.32 101.4,186 101.88,184.91 102.4,183.95 103,183 103.61,182.12 104.22,181.83 104.91,180.69 105.78,180.19 106.9,179.31 108.36,177.72 110.1,176.32 112,175.46 113.94,173.73 115.8,172.79 117.58,172.21 119.36,171.22 121.14,169.64 122.92,168.78 124.7,168.15 126.48,168.05 128.26,166.78 130.05,166.47 131.83,165.91 133.6,165.46 135.36,165.34 137.12,164.57 138.88,164.32 140.64,164.19 142.4,163.8 144.24,163.19 146.15,163.24 148.04,162.79 149.79,162.76 151.3,161.97 152.51,161.81 153.5,161.75 154.34,161.81 155.15,161.23 156,160.78 156.97,160.17 157.99,159.71 158.97,159.17 159.81,159.43 160.4,159.05" fill="none" stroke="#2fd82f" stroke-width="1.15" stroke-linejoin="round"/>
<g fill="#2fd82f"><circle cx="35" cy="163.1" r="1.0"/><circle cx="36.87" cy="165.27" r="1.0"/><circle cx="39.35" cy="166.59" r="1.0"/><circle cx="41.57" cy="167.26" r="1.0"/><circle cx="44.45" cy="167.93" r="1.0"/><circle cx="48.07" cy="168.55" r="1.0"/><circle cx="51.8" cy="169.3" r="1.0"/><circle cx="55.36" cy="170.31" r="1.0"/><circle cx="58.92" cy="171.44" r="1.0"/><circle cx="62.48" cy="172.55" r="1.0"/><circle cx="66.05" cy="173.66" r="1.0"/><circle cx="69.6" cy="174.7" r="1.0"/><circle cx="73.12" cy="175.49" r="1.0"/><circle cx="76.64" cy="176.26" r="1.0"/><circle cx="80.23" cy="177.47" r="1.0"/><circle cx="83.99" cy="179.08" r="1.0"/><circle cx="87.3" cy="180.9" r="1.0"/><circle cx="89.85" cy="182.85" r="1.0"/><circle cx="91.86" cy="185.01" r="1.0"/><circle cx="93.42" cy="187.46" r="1.0"/><circle cx="94.5" cy="190.19" r="1.0"/><circle cx="95.3" cy="193.3" r="1.0"/><circle cx="95.91" cy="196.83" r="1.0"/><circle cx="96.32" cy="200.81" r="1.0"/><circle cx="96.66" cy="205.4" r="1.0"/><circle cx="96.8" cy="208.01" r="1.0"/><circle cx="96.91" cy="210.71" r="1.0"/><circle cx="97.01" cy="213.41" r="1.0"/><circle cx="97.1" cy="216" r="1.0"/><circle cx="97.18" cy="218.85" r="1.0"/><circle cx="97.24" cy="222.02" r="1.0"/><circle cx="97.29" cy="224.98" r="1.0"/><circle cx="97.4" cy="228" r="1.0"/><circle cx="97.54" cy="225.02" r="1.0"/><circle cx="97.61" cy="222.1" r="1.0"/><circle cx="97.7" cy="218.91" r="1.0"/><circle cx="97.8" cy="216" r="1.0"/><circle cx="97.9" cy="213.31" r="1.0"/><circle cx="98" cy="210.5" r="1.0"/><circle cx="98.11" cy="207.62" r="1.0"/><circle cx="98.27" cy="204.77" r="1.0"/><circle cx="98.5" cy="202" r="1.0"/><circle cx="98.81" cy="199.22" r="1.0"/><circle cx="99.18" cy="196.39" r="1.0"/><circle cx="99.6" cy="193.65" r="1.0"/><circle cx="100.05" cy="191.14" r="1.0"/><circle cx="100.95" cy="187.32" r="1.0"/><circle cx="101.88" cy="184.91" r="1.0"/><circle cx="103.61" cy="182.12" r="1.0"/><circle cx="105.78" cy="180.19" r="1.0"/><circle cx="108.36" cy="177.72" r="1.0"/><circle cx="112" cy="175.46" r="1.0"/><circle cx="113.94" cy="173.73" r="1.0"/><circle cx="117.58" cy="172.21" r="1.0"/><circle cx="121.14" cy="169.64" r="1.0"/><circle cx="124.7" cy="168.15" r="1.0"/><circle cx="128.26" cy="166.78" r="1.0"/><circle cx="131.83" cy="165.91" r="1.0"/><circle cx="135.36" cy="165.34" r="1.0"/><circle cx="138.88" cy="164.32" r="1.0"/><circle cx="142.4" cy="163.8" r="1.0"/><circle cx="146.15" cy="163.24" r="1.0"/><circle cx="149.79" cy="162.76" r="1.0"/><circle cx="152.51" cy="161.81" r="1.0"/><circle cx="155.15" cy="161.23" r="1.0"/><circle cx="157.99" cy="159.71" r="1.0"/><circle cx="160.4" cy="159.05" r="1.0"/></g>
<polyline points="35,173.8 35.31,173.67 35.72,173.49 36.24,173.27 36.87,173.07 37.6,172.9 38.49,172.76 39.53,172.64 40.65,172.54 41.8,172.46 42.9,172.4 43.99,172.36 45.1,172.34 46.2,172.34 47.25,172.39 48.2,172.5 48.94,172.66 49.51,172.87 50.06,173.13 50.77,173.44 51.8,173.8 53.24,174.24 54.98,174.74 56.89,175.29 58.84,175.85 60.7,176.4 62.48,176.92 64.26,177.43 66.05,177.95 67.83,178.5 69.6,179.1 71.36,179.75 73.12,180.44 74.88,181.16 76.64,181.91 78.4,182.7 80.26,183.54 82.21,184.44 84.12,185.36 85.86,186.26 87.3,187.1 88.36,187.86 89.13,188.56 89.72,189.24 90.27,189.94 90.9,190.7 91.63,191.44 92.39,192.14 93.13,192.91 93.81,193.86 94.4,195.1 94.89,196.61 95.3,198.32 95.64,200.26 95.94,202.48 96.2,205 96.42,207.87 96.58,211.05 96.7,214.5 96.8,218.17 96.9,222 96.98,226.72 97.04,232.36 97.08,237.84 97.13,242.08 97.2,244 97.28,242.96 97.37,239.68 97.46,235.12 97.57,230.24 97.7,226 97.84,222.26 97.99,218.37 98.16,214.55 98.36,211.02 98.6,208 98.88,205.56 99.2,203.55 99.55,201.87 99.92,200.39 100.3,199 100.66,197.84 101,196.97 101.37,196.21 101.82,195.36 102.4,194.2 103.08,192.64 103.82,190.81 104.67,188.73 105.68,187.27 106.9,185.17 108.4,183.46 110.14,182.52 112.03,181.53 113.95,180.34 115.8,178.71 117.58,178.07 119.36,176.86 121.14,175.83 122.92,175.87 124.7,174.88 126.48,173.91 128.26,173.7 130.05,173.2 131.83,172.01 133.6,171.89 135.36,171.42 137.12,170.85 138.88,171.16 140.64,170.93 142.4,170.19 144.23,170.03 146.12,169.26 147.99,168.6 149.74,168.2 151.3,167.88 152.63,166.87 153.79,166.58 154.83,165.71 155.78,165.54 156.7,165.07 157.61,164.1 158.48,162.99 159.27,162.87 159.92,162.05 160.4,161.59" fill="none" stroke="#1c1ccc" stroke-width="1.15" stroke-linejoin="round"/>
<g fill="#1c1ccc"><circle cx="35" cy="173.8" r="1.0"/><circle cx="37.6" cy="172.9" r="1.0"/><circle cx="40.65" cy="172.54" r="1.0"/><circle cx="43.99" cy="172.36" r="1.0"/><circle cx="47.25" cy="172.39" r="1.0"/><circle cx="49.51" cy="172.87" r="1.0"/><circle cx="51.8" cy="173.8" r="1.0"/><circle cx="54.98" cy="174.74" r="1.0"/><circle cx="58.84" cy="175.85" r="1.0"/><circle cx="62.48" cy="176.92" r="1.0"/><circle cx="66.05" cy="177.95" r="1.0"/><circle cx="69.6" cy="179.1" r="1.0"/><circle cx="73.12" cy="180.44" r="1.0"/><circle cx="76.64" cy="181.91" r="1.0"/><circle cx="80.26" cy="183.54" r="1.0"/><circle cx="84.12" cy="185.36" r="1.0"/><circle cx="87.3" cy="187.1" r="1.0"/><circle cx="89.13" cy="188.56" r="1.0"/><circle cx="90.9" cy="190.7" r="1.0"/><circle cx="93.13" cy="192.91" r="1.0"/><circle cx="94.4" cy="195.1" r="1.0"/><circle cx="95.3" cy="198.32" r="1.0"/><circle cx="95.94" cy="202.48" r="1.0"/><circle cx="96.2" cy="205" r="1.0"/><circle cx="96.42" cy="207.87" r="1.0"/><circle cx="96.58" cy="211.05" r="1.0"/><circle cx="96.7" cy="214.5" r="1.0"/><circle cx="96.8" cy="218.17" r="1.0"/><circle cx="96.9" cy="222" r="1.0"/><circle cx="96.98" cy="226.72" r="1.0"/><circle cx="97.04" cy="232.36" r="1.0"/><circle cx="97.08" cy="237.84" r="1.0"/><circle cx="97.13" cy="242.08" r="1.0"/><circle cx="97.28" cy="242.96" r="1.0"/><circle cx="97.37" cy="239.68" r="1.0"/><circle cx="97.46" cy="235.12" r="1.0"/><circle cx="97.57" cy="230.24" r="1.0"/><circle cx="97.7" cy="226" r="1.0"/><circle cx="97.84" cy="222.26" r="1.0"/><circle cx="97.99" cy="218.37" r="1.0"/><circle cx="98.16" cy="214.55" r="1.0"/><circle cx="98.36" cy="211.02" r="1.0"/><circle cx="98.6" cy="208" r="1.0"/><circle cx="98.88" cy="205.56" r="1.0"/><circle cx="99.55" cy="201.87" r="1.0"/><circle cx="100.3" cy="199" r="1.0"/><circle cx="101.37" cy="196.21" r="1.0"/><circle cx="103.08" cy="192.64" r="1.0"/><circle cx="104.67" cy="188.73" r="1.0"/><circle cx="106.9" cy="185.17" r="1.0"/><circle cx="110.14" cy="182.52" r="1.0"/><circle cx="113.95" cy="180.34" r="1.0"/><circle cx="115.8" cy="178.71" r="1.0"/><circle cx="119.36" cy="176.86" r="1.0"/><circle cx="122.92" cy="175.87" r="1.0"/><circle cx="126.48" cy="173.91" r="1.0"/><circle cx="130.05" cy="173.2" r="1.0"/><circle cx="133.6" cy="171.89" r="1.0"/><circle cx="137.12" cy="170.85" r="1.0"/><circle cx="140.64" cy="170.93" r="1.0"/><circle cx="144.23" cy="170.03" r="1.0"/><circle cx="147.99" cy="168.6" r="1.0"/><circle cx="151.3" cy="167.88" r="1.0"/><circle cx="153.79" cy="166.58" r="1.0"/><circle cx="155.78" cy="165.54" r="1.0"/><circle cx="157.61" cy="164.1" r="1.0"/><circle cx="159.92" cy="162.05" r="1.0"/></g>
<rect x="35" y="148.6" width="125.6" height="101.1" fill="none" stroke="#505050" stroke-width="0.9"/>
<path d="M35 249.7v-1.6M35 148.6v1.6M66.4 249.7v-1.6M66.4 148.6v1.6M97.8 249.7v-1.6M97.8 148.6v1.6M129.2 249.7v-1.6M129.2 148.6v1.6M160.6 249.7v-1.6M160.6 148.6v1.6M50.7 249.7v-0.96M50.7 148.6v0.96M82.1 249.7v-0.96M82.1 148.6v0.96M113.5 249.7v-0.96M113.5 148.6v0.96M144.9 249.7v-0.96M144.9 148.6v0.96" stroke="#505050" stroke-width="0.7" fill="none"/>
<path d="M35 243.8h1.6M35 227.2h1.6M35 210.6h1.6M35 194h1.6M35 177.4h1.6M35 160.8h1.6" stroke="#505050" stroke-width="0.7" fill="none"/>
<text x="35" y="257.2" font-size="5.9" text-anchor="middle" fill="#2a2a2a" stroke="#2a2a2a" stroke-width="0.22">-1.0</text>
<text x="66.4" y="257.2" font-size="5.9" text-anchor="middle" fill="#2a2a2a" stroke="#2a2a2a" stroke-width="0.22">-0.5</text>
<text x="97.8" y="257.2" font-size="5.9" text-anchor="middle" fill="#2a2a2a" stroke="#2a2a2a" stroke-width="0.22">0.0</text>
<text x="129.2" y="257.2" font-size="5.9" text-anchor="middle" fill="#2a2a2a" stroke="#2a2a2a" stroke-width="0.22">0.5</text>
<text x="160.6" y="257.2" font-size="5.9" text-anchor="middle" fill="#2a2a2a" stroke="#2a2a2a" stroke-width="0.22">1.0</text>
<text x="31.7" y="245.9" font-size="5.9" text-anchor="end" fill="#2a2a2a" stroke="#2a2a2a" stroke-width="0.22">10<tspan font-size="3.9" dy="-2.4">&#8722;4</tspan></text>
<text x="31.7" y="229.3" font-size="5.9" text-anchor="end" fill="#2a2a2a" stroke="#2a2a2a" stroke-width="0.22">10<tspan font-size="3.9" dy="-2.4">&#8722;3</tspan></text>
<text x="31.7" y="212.7" font-size="5.9" text-anchor="end" fill="#2a2a2a" stroke="#2a2a2a" stroke-width="0.22">10<tspan font-size="3.9" dy="-2.4">&#8722;2</tspan></text>
<text x="31.7" y="196.1" font-size="5.9" text-anchor="end" fill="#2a2a2a" stroke="#2a2a2a" stroke-width="0.22">10<tspan font-size="3.9" dy="-2.4">&#8722;1</tspan></text>
<text x="31.7" y="179.5" font-size="5.9" text-anchor="end" fill="#2a2a2a" stroke="#2a2a2a" stroke-width="0.22">10<tspan font-size="3.9" dy="-2.4">0</tspan></text>
<text x="31.7" y="162.9" font-size="5.9" text-anchor="end" fill="#2a2a2a" stroke="#2a2a2a" stroke-width="0.22">10<tspan font-size="3.9" dy="-2.4">1</tspan></text>
<text x="99.7" y="266.9" font-size="8.4" text-anchor="middle" fill="#2a2a2a" stroke="#2a2a2a" stroke-width="0.22">Voltage (V)</text>
<text transform="translate(18.8 199.6) rotate(-90)" font-size="8.1" text-anchor="middle" fill="#2a2a2a" stroke="#2a2a2a" stroke-width="0.22">Current density (mA/cm<tspan font-size="4.6" dy="-2.9">2</tspan><tspan dy="2.9">)</tspan></text>
<polyline points="38.7,216.1 54.2,216.1" fill="none" stroke="#777" stroke-width="1.1" stroke-linejoin="round"/>
<g fill="#111"><circle cx="46.5" cy="216.1" r="1.1"/></g>
<text x="56" y="218.3" font-size="6.4" text-anchor="start" fill="#2a2a2a" stroke="#2a2a2a" stroke-width="0.22">control</text>
<polyline points="38.7,224.2 54.2,224.2" fill="none" stroke="#e58080" stroke-width="1.1" stroke-linejoin="round"/>
<g fill="#e3171d"><circle cx="46.5" cy="224.2" r="1.1"/></g>
<text x="56" y="226.4" font-size="6.4" text-anchor="start" fill="#2a2a2a" stroke="#2a2a2a" stroke-width="0.22">SIO-2</text>
<polyline points="38.7,232.3 54.2,232.3" fill="none" stroke="#6868d8" stroke-width="1.1" stroke-linejoin="round"/>
<g fill="#1c1ccc"><circle cx="46.5" cy="232.3" r="1.1"/></g>
<text x="56" y="234.5" font-size="6.4" text-anchor="start" fill="#2a2a2a" stroke="#2a2a2a" stroke-width="0.22">SIO-5</text>
<polyline points="38.7,240.4 54.2,240.4" fill="none" stroke="#7ee87e" stroke-width="1.1" stroke-linejoin="round"/>
<g fill="#2fd82f"><circle cx="46.5" cy="240.4" r="1.1"/></g>
<text x="56" y="242.6" font-size="6.4" text-anchor="start" fill="#2a2a2a" stroke="#2a2a2a" stroke-width="0.22">SIO-8</text>
<text x="163.1" y="148.7" font-size="10" text-anchor="start" fill="#2a2a2a" stroke="#2a2a2a" stroke-width="0.22">(e)</text>
<rect x="201.2" y="243.72" width="6" height="6.28" fill="#b9b9b9"/>
<rect x="208.5" y="193.47" width="6" height="56.53" fill="#b9b9b9"/>
<rect x="215.8" y="231.16" width="6" height="18.84" fill="#b9b9b9"/>
<rect x="223.1" y="212.31" width="6" height="37.69" fill="#b9b9b9"/>
<rect x="230.4" y="224.88" width="6" height="25.12" fill="#b9b9b9"/>
<rect x="237.7" y="224.88" width="6" height="25.12" fill="#f78888"/>
<rect x="245" y="199.75" width="6" height="50.25" fill="#f78888"/>
<rect x="252.3" y="212.31" width="6" height="37.69" fill="#f78888"/>
<rect x="259.6" y="218.59" width="6" height="31.41" fill="#f78888"/>
<rect x="296.1" y="180.91" width="6" height="69.09" fill="#7cc0f5"/>
<rect x="303.4" y="212.31" width="6" height="37.69" fill="#7cc0f5"/>
<rect x="310.7" y="212.31" width="6" height="37.69" fill="#7cc0f5"/>
<rect x="259.6" y="243.72" width="6" height="6.28" fill="#66e266"/>
<rect x="266.9" y="243.72" width="6" height="6.28" fill="#66e266"/>
<rect x="274.2" y="224.88" width="6" height="25.12" fill="#66e266"/>
<rect x="281.5" y="218.59" width="6" height="31.41" fill="#66e266"/>
<rect x="288.8" y="193.47" width="6" height="56.53" fill="#66e266"/>
<rect x="296.1" y="224.88" width="6" height="25.12" fill="#66e266"/>
<polyline points="196,248.08 196.5,247.79 197,247.46 197.5,247.09 198,246.67 198.5,246.2 199,245.69 199.5,245.12 200,244.49 200.5,243.8 201,243.04 201.5,242.21 202,241.32 202.5,240.35 203,239.3 203.5,238.18 204,236.98 204.5,235.71 205,234.35 205.5,232.92 206,231.42 206.5,229.85 207,228.22 207.5,226.52 208,224.77 208.5,222.97 209,221.13 209.5,219.27 210,217.38 210.5,215.49 211,213.59 211.5,211.71 212,209.86 212.5,208.05 213,206.29 213.5,204.6 214,202.99 214.5,201.47 215,200.06 215.5,198.76 216,197.6 216.5,196.57 217,195.69 217.5,194.96 218,194.4 218.5,194 219,193.78 219.5,193.72 220,193.84 220.5,194.14 221,194.6 221.5,195.23 222,196.02 222.5,196.96 223,198.05 223.5,199.27 224,200.61 224.5,202.07 225,203.63 225.5,205.27 226,206.99 226.5,208.77 227,210.6 227.5,212.46 228,214.35 228.5,216.24 229,218.14 229.5,220.02 230,221.87 230.5,223.69 231,225.47 231.5,227.2 232,228.88 232.5,230.49 233,232.03 233.5,233.5 234,234.9 234.5,236.22 235,237.47 235.5,238.64 236,239.73 236.5,240.74 237,241.68 237.5,242.55 238,243.35 238.5,244.08 239,244.75 239.5,245.35 240,245.9 240.5,246.4 241,246.84 241.5,247.24 242,247.6 242.5,247.91" fill="none" stroke="#5a5a5a" stroke-width="0.85" stroke-dasharray="2.6,1.7" stroke-linejoin="round"/>
<polyline points="230.2,248.2 230.7,247.89 231.2,247.53 231.7,247.13 232.2,246.66 232.7,246.14 233.2,245.56 233.7,244.91 234.2,244.18 234.7,243.38 235.2,242.5 235.7,241.53 236.2,240.47 236.7,239.32 237.2,238.08 237.7,236.75 238.2,235.33 238.7,233.82 239.2,232.22 239.7,230.54 240.2,228.79 240.7,226.97 241.2,225.08 241.7,223.15 242.2,221.19 242.7,219.2 243.2,217.2 243.7,215.21 244.2,213.23 244.7,211.3 245.2,209.43 245.7,207.63 246.2,205.93 246.7,204.33 247.2,202.87 247.7,201.54 248.2,200.37 248.7,199.37 249.2,198.56 249.7,197.93 250.2,197.5 250.7,197.27 251.2,197.25 251.7,197.44 252.2,197.83 252.7,198.42 253.2,199.2 253.7,200.16 254.2,201.29 254.7,202.59 255.2,204.03 255.7,205.6 256.2,207.28 256.7,209.07 257.2,210.92 257.7,212.85 258.2,214.81 258.7,216.8 259.2,218.8 259.7,220.79 260.2,222.76 260.7,224.7 261.2,226.59 261.7,228.43 262.2,230.2 262.7,231.89 263.2,233.51 263.7,235.03 264.2,236.47 264.7,237.82 265.2,239.08 265.7,240.25 266.2,241.32 266.7,242.31 267.2,243.21 267.7,244.03 268.2,244.77 268.7,245.44 269.2,246.03 269.7,246.57 270.2,247.04 270.7,247.46 271.2,247.82 271.7,248.14" fill="none" stroke="#5a5a5a" stroke-width="0.85" stroke-dasharray="2.6,1.7" stroke-linejoin="round"/>
<polyline points="260,248.05 260.5,247.79 261,247.49 261.5,247.16 262,246.79 262.5,246.39 263,245.94 263.5,245.45 264,244.92 264.5,244.33 265,243.7 265.5,243.01 266,242.26 266.5,241.46 267,240.6 267.5,239.67 268,238.69 268.5,237.64 269,236.52 269.5,235.35 270,234.11 270.5,232.81 271,231.44 271.5,230.02 272,228.55 272.5,227.02 273,225.45 273.5,223.83 274,222.18 274.5,220.49 275,218.79 275.5,217.06 276,215.33 276.5,213.6 277,211.88 277.5,210.17 278,208.49 278.5,206.85 279,205.26 279.5,203.73 280,202.26 280.5,200.86 281,199.56 281.5,198.34 282,197.24 282.5,196.24 283,195.36 283.5,194.6 284,193.97 284.5,193.48 285,193.13 285.5,192.91 286,192.84 286.5,192.91 287,193.13 287.5,193.48 288,193.97 288.5,194.6 289,195.36 289.5,196.24 290,197.24 290.5,198.34 291,199.56 291.5,200.86 292,202.26 292.5,203.73 293,205.26 293.5,206.85 294,208.49 294.5,210.17 295,211.88 295.5,213.6 296,215.33 296.5,217.06 297,218.79 297.5,220.49 298,222.18 298.5,223.83 299,225.45 299.5,227.02 300,228.55 300.5,230.02 301,231.44 301.5,232.81 302,234.11 302.5,235.35 303,236.52 303.5,237.64 304,238.69 304.5,239.67 305,240.6 305.5,241.46 306,242.26 306.5,243.01 307,243.7 307.5,244.33 308,244.92 308.5,245.45 309,245.94 309.5,246.39 310,246.79 310.5,247.16 311,247.49 311.5,247.79 312,248.05" fill="none" stroke="#5a5a5a" stroke-width="0.85" stroke-dasharray="2.6,1.7" stroke-linejoin="round"/>
<polyline points="276.82,247.65 277.32,247.3 277.82,246.91 278.32,246.47 278.82,245.98 279.32,245.44 279.82,244.83 280.32,244.17 280.82,243.44 281.32,242.64 281.82,241.76 282.32,240.81 282.82,239.78 283.32,238.66 283.82,237.46 284.32,236.17 284.82,234.79 285.32,233.32 285.82,231.77 286.32,230.12 286.82,228.39 287.32,226.58 287.82,224.69 288.32,222.72 288.82,220.69 289.32,218.6 289.82,216.46 290.32,214.27 290.82,212.05 291.32,209.8 291.82,207.55 292.32,205.3 292.82,203.07 293.32,200.87 293.82,198.71 294.32,196.62 294.82,194.59 295.32,192.66 295.82,190.83 296.32,189.12 296.82,187.54 297.32,186.11 297.82,184.83 298.32,183.72 298.82,182.78 299.32,182.02 299.82,181.46 300.32,181.09 300.82,180.92 301.32,180.95 301.82,181.17 302.32,181.6 302.82,182.22 303.32,183.02 303.82,184.01 304.32,185.17 304.82,186.5 305.32,187.97 305.82,189.59 306.32,191.33 306.82,193.19 307.32,195.15 307.82,197.2 308.32,199.31 308.82,201.48 309.32,203.69 309.82,205.93 310.32,208.18 310.82,210.43 311.32,212.67 311.82,214.88 312.32,217.06 312.82,219.19 313.32,221.27 313.82,223.28 314.32,225.23 314.82,227.1 315.32,228.88 315.82,230.59 316.32,232.21 316.82,233.74 317.32,235.18 317.82,236.54 318.32,237.8 318.82,238.98 319.32,240.07 319.82,241.08 320.32,242.01 320.82,242.87 321.32,243.65 321.82,244.36 322.32,245.01 322.82,245.59 323.32,246.12 323.82,246.6 324.32,247.02 324.82,247.4" fill="none" stroke="#5a5a5a" stroke-width="0.85" stroke-dasharray="2.6,1.7" stroke-linejoin="round"/>
<rect x="194" y="149.5" width="129" height="100.5" fill="none" stroke="#505050" stroke-width="0.9"/>
<path d="M218.3 250v-1.6M218.3 149.5v1.6M250.47 250v-1.6M250.47 149.5v1.6M282.64 250v-1.6M282.64 149.5v1.6M314.81 250v-1.6M314.81 149.5v1.6M202.22 250v-0.96M202.22 149.5v0.96M234.39 250v-0.96M234.39 149.5v0.96M266.56 250v-0.96M266.56 149.5v0.96M298.73 250v-0.96M298.73 149.5v0.96M330.89 250v-0.96M330.89 149.5v0.96" stroke="#505050" stroke-width="0.7" fill="none"/>
<path d="M194 250h1.6M194 237.44h1.6M194 224.88h1.6M194 212.31h1.6M194 199.75h1.6M194 187.19h1.6M194 174.62h1.6M194 162.06h1.6M194 149.5h1.6" stroke="#505050" stroke-width="0.7" fill="none"/>
<path d="M323 250h-1.6M323 237.44h-1.6M323 224.88h-1.6M323 212.31h-1.6M323 199.75h-1.6M323 187.19h-1.6M323 174.62h-1.6M323 162.06h-1.6M323 149.5h-1.6" stroke="#505050" stroke-width="0.7" fill="none"/>
<text x="218.3" y="257.8" font-size="6.2" text-anchor="middle" fill="#2a2a2a" stroke="#2a2a2a" stroke-width="0.22">19</text>
<text x="250.47" y="257.8" font-size="6.2" text-anchor="middle" fill="#2a2a2a" stroke="#2a2a2a" stroke-width="0.22">20</text>
<text x="282.64" y="257.8" font-size="6.2" text-anchor="middle" fill="#2a2a2a" stroke="#2a2a2a" stroke-width="0.22">21</text>
<text x="314.81" y="257.8" font-size="6.2" text-anchor="middle" fill="#2a2a2a" stroke="#2a2a2a" stroke-width="0.22">22</text>
<text x="192.3" y="252.2" font-size="6.2" text-anchor="end" fill="#2a2a2a" stroke="#2a2a2a" stroke-width="0.22">0</text>
<text x="192.3" y="239.64" font-size="6.2" text-anchor="end" fill="#2a2a2a" stroke="#2a2a2a" stroke-width="0.22">2</text>
<text x="192.3" y="227.07" font-size="6.2" text-anchor="end" fill="#2a2a2a" stroke="#2a2a2a" stroke-width="0.22">4</text>
<text x="192.3" y="214.51" font-size="6.2" text-anchor="end" fill="#2a2a2a" stroke="#2a2a2a" stroke-width="0.22">6</text>
<text x="192.3" y="201.95" font-size="6.2" text-anchor="end" fill="#2a2a2a" stroke="#2a2a2a" stroke-width="0.22">8</text>
<text x="192.3" y="189.39" font-size="6.2" text-anchor="end" fill="#2a2a2a" stroke="#2a2a2a" stroke-width="0.22">10</text>
<text x="192.3" y="176.82" font-size="6.2" text-anchor="end" fill="#2a2a2a" stroke="#2a2a2a" stroke-width="0.22">12</text>
<text x="192.3" y="164.26" font-size="6.2" text-anchor="end" fill="#2a2a2a" stroke="#2a2a2a" stroke-width="0.22">14</text>
<text x="192.3" y="151.7" font-size="6.2" text-anchor="end" fill="#2a2a2a" stroke="#2a2a2a" stroke-width="0.22">16</text>
<text x="258.5" y="266.4" font-size="8.4" text-anchor="middle" fill="#2a2a2a" stroke="#2a2a2a" stroke-width="0.22" font-style="italic">PCE (%)</text>
<text transform="translate(182.4 201.9) rotate(-90)" font-size="9.0" text-anchor="middle" fill="#2a2a2a" stroke="#2a2a2a" stroke-width="0.22">Counts</text>
<rect x="198.4" y="152.1" width="14.5" height="6.9" fill="#b9b9b9"/>
<text x="214.7" y="157.7" font-size="6.5" text-anchor="start" fill="#2a2a2a" stroke="#2a2a2a" stroke-width="0.22">control</text>
<rect x="198.4" y="160.35" width="14.5" height="6.9" fill="#f78888"/>
<text x="214.7" y="165.95" font-size="6.5" text-anchor="start" fill="#2a2a2a" stroke="#2a2a2a" stroke-width="0.22">SIO-2</text>
<rect x="198.4" y="168.6" width="14.5" height="6.9" fill="#7cc0f5"/>
<text x="214.7" y="174.2" font-size="6.5" text-anchor="start" fill="#2a2a2a" stroke="#2a2a2a" stroke-width="0.22">SIO-5</text>
<rect x="198.4" y="176.85" width="14.5" height="6.9" fill="#66e266"/>
<text x="214.7" y="182.45" font-size="6.5" text-anchor="start" fill="#2a2a2a" stroke="#2a2a2a" stroke-width="0.22">SIO-8</text>
<text x="343.6" y="148.7" font-size="10" text-anchor="start" fill="#2a2a2a" stroke="#2a2a2a" stroke-width="0.22">(f)</text>
<line x1="369.6" y1="166.4" x2="496.8" y2="166.4" stroke="#333" stroke-width="0.8"/>
<polyline points="371.01,156.6 376.1,153.1 380.06,156.13 385.43,157.64 390.66,158.58 395.61,160.19 399.42,160.85 403.94,161.61 409.46,162.08 415.11,162.46 423.02,162.74 430.66,163.12 438.43,164.07 446.2,164.73 453.83,165.86 461.89,167.18 470.37,168.32 479.42,170.02 488.89,171.91" fill="none" stroke="#2fd82f" stroke-width="0.7" stroke-linejoin="round"/>
<polyline points="390.8,159.91 496.8,173.04" fill="none" stroke="#2fd82f" stroke-width="0.8" stroke-linejoin="round"/>
<g fill="#3ad63a"><circle cx="395.61" cy="160.19" r="1.35"/><circle cx="399.42" cy="160.85" r="1.35"/><circle cx="403.94" cy="161.61" r="1.35"/><circle cx="409.46" cy="162.08" r="1.35"/><circle cx="415.11" cy="162.46" r="1.35"/><circle cx="423.02" cy="162.74" r="1.35"/><circle cx="430.66" cy="163.12" r="1.35"/><circle cx="438.43" cy="164.07" r="1.35"/><circle cx="446.2" cy="164.73" r="1.35"/><circle cx="453.83" cy="165.86" r="1.35"/><circle cx="461.89" cy="167.18" r="1.35"/><circle cx="470.37" cy="168.32" r="1.35"/><circle cx="479.42" cy="170.02" r="1.35"/><circle cx="488.89" cy="171.91" r="1.35"/></g>
<polyline points="371.01,156.6 376.1,153.1 380.06,156.13 385.43,157.64 390.66,158.58 395.61,161.32 399.42,163.03 403.94,164.82 409.46,166.71 415.11,167.09 423.02,168.6 430.66,169.07 438.43,169.83 446.2,170.68 453.83,172.57 461.89,173.33 470.37,174.37 479.42,176.73 488.89,178.33" fill="none" stroke="#e3171d" stroke-width="0.7" stroke-linejoin="round"/>
<polyline points="390.8,161.32 496.8,179.66" fill="none" stroke="#e3171d" stroke-width="0.8" stroke-linejoin="round"/>
<g fill="#e01818"><circle cx="395.61" cy="161.32" r="1.35"/><circle cx="399.42" cy="163.03" r="1.35"/><circle cx="403.94" cy="164.82" r="1.35"/><circle cx="409.46" cy="166.71" r="1.35"/><circle cx="415.11" cy="167.09" r="1.35"/><circle cx="423.02" cy="168.6" r="1.35"/><circle cx="430.66" cy="169.07" r="1.35"/><circle cx="438.43" cy="169.83" r="1.35"/><circle cx="446.2" cy="170.68" r="1.35"/><circle cx="453.83" cy="172.57" r="1.35"/><circle cx="461.89" cy="173.33" r="1.35"/><circle cx="470.37" cy="174.37" r="1.35"/><circle cx="479.42" cy="176.73" r="1.35"/><circle cx="488.89" cy="178.33" r="1.35"/></g>
<polyline points="371.01,156.6 376.1,153.1 380.06,156.13 385.43,157.64 390.66,158.58 395.61,160.95 399.42,161.99 403.94,161.99 409.46,163.03 415.11,163.88 423.02,164.82 430.66,166.14 438.43,167 446.2,168.03 453.83,169.07 461.89,171.06 470.37,172.76 479.42,175.03 488.89,176.73" fill="none" stroke="#111" stroke-width="0.7" stroke-linejoin="round"/>
<polyline points="390.8,160.19 496.8,177.77" fill="none" stroke="#111" stroke-width="0.8" stroke-linejoin="round"/>
<g fill="#111"><circle cx="395.61" cy="160.95" r="1.35"/><circle cx="399.42" cy="161.99" r="1.35"/><circle cx="403.94" cy="161.99" r="1.35"/><circle cx="409.46" cy="163.03" r="1.35"/><circle cx="415.11" cy="163.88" r="1.35"/><circle cx="423.02" cy="164.82" r="1.35"/><circle cx="430.66" cy="166.14" r="1.35"/><circle cx="438.43" cy="167" r="1.35"/><circle cx="446.2" cy="168.03" r="1.35"/><circle cx="453.83" cy="169.07" r="1.35"/><circle cx="461.89" cy="171.06" r="1.35"/><circle cx="470.37" cy="172.76" r="1.35"/><circle cx="479.42" cy="175.03" r="1.35"/><circle cx="488.89" cy="176.73" r="1.35"/></g>
<polyline points="371.01,156.6 376.1,153.1 380.06,156.13 385.43,157.64 390.66,158.58 395.61,158.96 399.42,158.96 403.94,158.96 409.46,159.34 415.11,159.72 423.02,160 430.66,160.95 438.43,161.7 446.2,162.18 453.83,163.12 461.89,163.88 470.37,164.82 479.42,165.29 488.89,165.58" fill="none" stroke="#1c1ccc" stroke-width="0.7" stroke-linejoin="round"/>
<polyline points="390.8,158.49 496.8,165.58" fill="none" stroke="#1c1ccc" stroke-width="0.8" stroke-linejoin="round"/>
<g fill="#1a1ac0"><circle cx="395.61" cy="158.96" r="1.35"/><circle cx="399.42" cy="158.96" r="1.35"/><circle cx="403.94" cy="158.96" r="1.35"/><circle cx="409.46" cy="159.34" r="1.35"/><circle cx="415.11" cy="159.72" r="1.35"/><circle cx="423.02" cy="160" r="1.35"/><circle cx="430.66" cy="160.95" r="1.35"/><circle cx="438.43" cy="161.7" r="1.35"/><circle cx="446.2" cy="162.18" r="1.35"/><circle cx="453.83" cy="163.12" r="1.35"/><circle cx="461.89" cy="163.88" r="1.35"/><circle cx="470.37" cy="164.82" r="1.35"/><circle cx="479.42" cy="165.29" r="1.35"/><circle cx="488.89" cy="165.58" r="1.35"/></g>
<g fill="#111"><circle cx="371.01" cy="156.6" r="1.35"/><circle cx="376.1" cy="153.1" r="1.35"/><circle cx="380.06" cy="156.13" r="1.35"/><circle cx="385.43" cy="157.64" r="1.35"/><circle cx="390.66" cy="158.58" r="1.35"/></g>
<rect x="369.6" y="149.1" width="127.2" height="102.2" fill="none" stroke="#505050" stroke-width="0.9"/>
<path d="M369.6 251.3v-1.6M369.6 149.1v1.6M383.73 251.3v-1.6M383.73 149.1v1.6M397.87 251.3v-1.6M397.87 149.1v1.6M412 251.3v-1.6M412 149.1v1.6M426.13 251.3v-1.6M426.13 149.1v1.6M440.27 251.3v-1.6M440.27 149.1v1.6M454.4 251.3v-1.6M454.4 149.1v1.6M468.53 251.3v-1.6M468.53 149.1v1.6M482.67 251.3v-1.6M482.67 149.1v1.6M496.8 251.3v-1.6M496.8 149.1v1.6M376.67 251.3v-0.96M376.67 149.1v0.96M390.8 251.3v-0.96M390.8 149.1v0.96M404.93 251.3v-0.96M404.93 149.1v0.96M419.07 251.3v-0.96M419.07 149.1v0.96M433.2 251.3v-0.96M433.2 149.1v0.96M447.33 251.3v-0.96M447.33 149.1v0.96M461.47 251.3v-0.96M461.47 149.1v0.96M475.6 251.3v-0.96M475.6 149.1v0.96M489.73 251.3v-0.96M489.73 149.1v0.96" stroke="#505050" stroke-width="0.7" fill="none"/>
<path d="M369.6 251.1h1.6M369.6 232.2h1.6M369.6 213.3h1.6M369.6 194.4h1.6M369.6 175.5h1.6M369.6 156.6h1.6M369.6 241.65h0.96M369.6 222.75h0.96M369.6 203.85h0.96M369.6 184.95h0.96M369.6 166.05h0.96" stroke="#505050" stroke-width="0.7" fill="none"/>
<text x="369.6" y="258.6" font-size="5.6" text-anchor="middle" fill="#2a2a2a" stroke="#2a2a2a" stroke-width="0.22">0</text>
<text x="383.73" y="258.6" font-size="5.6" text-anchor="middle" fill="#2a2a2a" stroke="#2a2a2a" stroke-width="0.22">100</text>
<text x="397.87" y="258.6" font-size="5.6" text-anchor="middle" fill="#2a2a2a" stroke="#2a2a2a" stroke-width="0.22">200</text>
<text x="412" y="258.6" font-size="5.6" text-anchor="middle" fill="#2a2a2a" stroke="#2a2a2a" stroke-width="0.22">300</text>
<text x="426.13" y="258.6" font-size="5.6" text-anchor="middle" fill="#2a2a2a" stroke="#2a2a2a" stroke-width="0.22">400</text>
<text x="440.27" y="258.6" font-size="5.6" text-anchor="middle" fill="#2a2a2a" stroke="#2a2a2a" stroke-width="0.22">500</text>
<text x="454.4" y="258.6" font-size="5.6" text-anchor="middle" fill="#2a2a2a" stroke="#2a2a2a" stroke-width="0.22">600</text>
<text x="468.53" y="258.6" font-size="5.6" text-anchor="middle" fill="#2a2a2a" stroke="#2a2a2a" stroke-width="0.22">700</text>
<text x="482.67" y="258.6" font-size="5.6" text-anchor="middle" fill="#2a2a2a" stroke="#2a2a2a" stroke-width="0.22">800</text>
<text x="496.8" y="258.6" font-size="5.6" text-anchor="middle" fill="#2a2a2a" stroke="#2a2a2a" stroke-width="0.22">900</text>
<text x="367.8" y="253.1" font-size="5.6" text-anchor="end" fill="#2a2a2a" stroke="#2a2a2a" stroke-width="0.22">0.0</text>
<text x="367.8" y="234.2" font-size="5.6" text-anchor="end" fill="#2a2a2a" stroke="#2a2a2a" stroke-width="0.22">0.2</text>
<text x="367.8" y="215.3" font-size="5.6" text-anchor="end" fill="#2a2a2a" stroke="#2a2a2a" stroke-width="0.22">0.4</text>
<text x="367.8" y="196.4" font-size="5.6" text-anchor="end" fill="#2a2a2a" stroke="#2a2a2a" stroke-width="0.22">0.6</text>
<text x="367.8" y="177.5" font-size="5.6" text-anchor="end" fill="#2a2a2a" stroke="#2a2a2a" stroke-width="0.22">0.8</text>
<text x="367.8" y="158.6" font-size="5.6" text-anchor="end" fill="#2a2a2a" stroke="#2a2a2a" stroke-width="0.22">1.0</text>
<text x="498.6" y="168.45" font-size="6.6" text-anchor="start" fill="#555" stroke="#555" stroke-width="0.22">0.9</text>
<text x="436.5" y="267.4" font-size="7.8" text-anchor="middle" fill="#2a2a2a" stroke="#2a2a2a" stroke-width="0.22">Time (h)</text>
<text transform="translate(357.8 200.8) rotate(-90)" font-size="7.9" text-anchor="middle" fill="#2a2a2a" stroke="#2a2a2a" stroke-width="0.22"><tspan font-style="italic">PCE</tspan> (norm.)</text>
<polyline points="373,217.1 387,217.1" fill="none" stroke="#222" stroke-width="1.1" stroke-linejoin="round"/>
<g fill="#111"><circle cx="380" cy="217.1" r="1.3"/></g>
<text x="388.9" y="219.2" font-size="6" text-anchor="start" fill="#2a2a2a" stroke="#2a2a2a" stroke-width="0.22">control</text>
<polyline points="373,224.7 387,224.7" fill="none" stroke="#f07070" stroke-width="1.1" stroke-linejoin="round"/>
<g fill="#e3171d"><circle cx="380" cy="224.7" r="1.3"/></g>
<text x="388.9" y="226.8" font-size="6" text-anchor="start" fill="#2a2a2a" stroke="#2a2a2a" stroke-width="0.22">SIO-2</text>
<polyline points="373,232.3 387,232.3" fill="none" stroke="#4040d0" stroke-width="1.1" stroke-linejoin="round"/>
<g fill="#1c1ccc"><circle cx="380" cy="232.3" r="1.3"/></g>
<text x="388.9" y="234.4" font-size="6" text-anchor="start" fill="#2a2a2a" stroke="#2a2a2a" stroke-width="0.22">SIO-5</text>
<polyline points="373,239.9 387,239.9" fill="none" stroke="#80ee80" stroke-width="1.1" stroke-linejoin="round"/>
<g fill="#2fd82f"><circle cx="380" cy="239.9" r="1.3"/></g>
<text x="388.9" y="242" font-size="6" text-anchor="start" fill="#2a2a2a" stroke="#2a2a2a" stroke-width="0.22">SIO-8</text>
</svg>
</body></html>
